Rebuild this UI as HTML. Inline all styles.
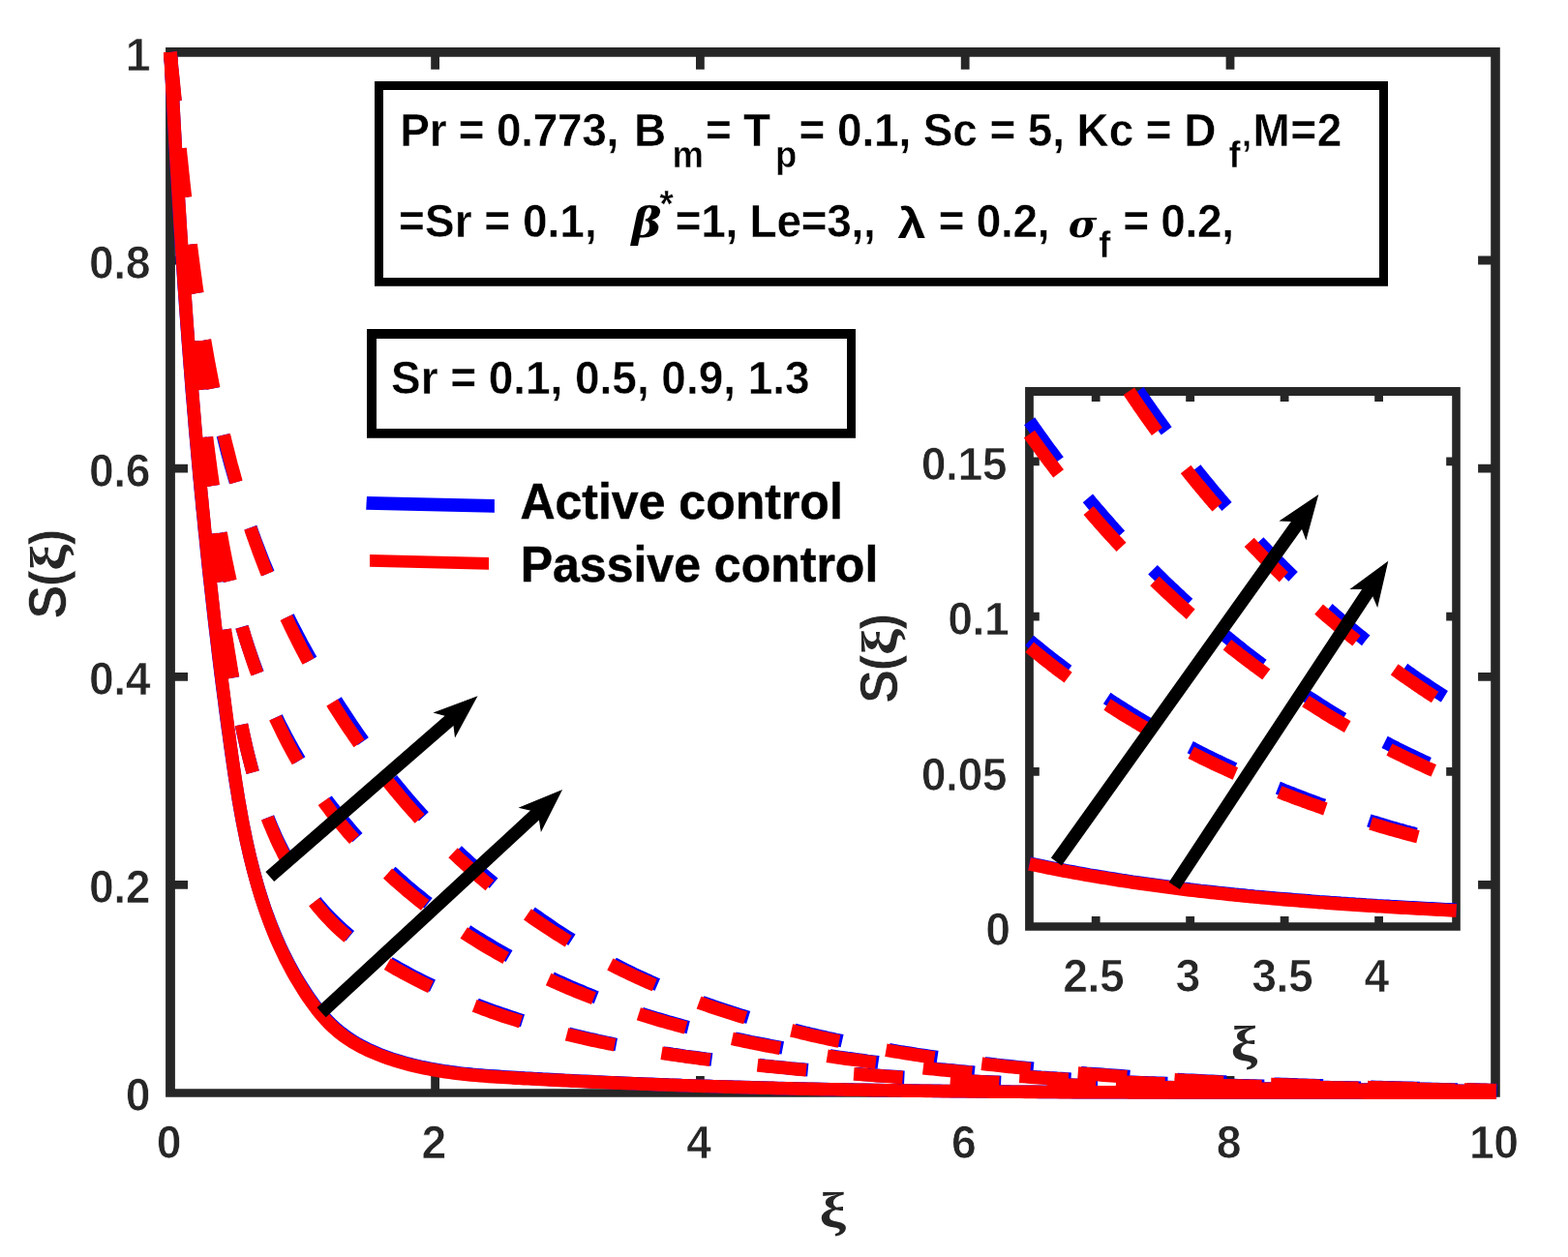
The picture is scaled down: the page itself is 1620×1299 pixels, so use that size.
<!DOCTYPE html>
<html lang="en"><head><meta charset="utf-8"><title>S(ξ) concentration profile</title>
<style>
html,body{margin:0;padding:0;background:#fff}
body{width:1620px;height:1299px;overflow:hidden}
svg{display:block}
text{font-family:"Liberation Sans","DejaVu Sans",sans-serif;font-weight:bold}
.tk{font-size:46.4px;fill:#262626;stroke:#fff;stroke-width:.7px;letter-spacing:-.5px}
.lb{font-size:51px;fill:#262626;stroke:#fff;stroke-width:.5px}
.bx{font-size:46px;fill:#000;stroke:#fff;stroke-width:.4px;letter-spacing:-.28px}
.sb{font-size:36.6px;fill:#000;stroke:#fff;stroke-width:.4px}
.lg{font-size:50px;fill:#000;stroke:#000;stroke-width:.45px}
.xi{font-family:"Liberation Serif","DejaVu Serif",serif;font-size:51.6px;fill:#262626}
.gb{font-family:"DejaVu Serif","Liberation Serif",serif;font-style:italic;fill:#000}
.gl{font-size:45.3px;fill:#000}
</style></head><body>
<svg width="1620" height="1299" viewBox="0 0 1620 1299">
<rect x="0" y="0" width="1620" height="1299" fill="#fff"/>
<g id="main-axes">
<path fill="#262626" fill-rule="evenodd" d="M171.1 49.1H1549.8V1133.8H171.1ZM180.9 58.7H1540.2V1125.2H180.9Z"/>
<path fill="#262626" d="M445.2 1112.1H454.0V1126.2H445.2ZM445.2 57.7H454.0V71.8H445.2ZM719.0 1112.1H727.8V1126.2H719.0ZM719.0 57.7H727.8V71.8H719.0ZM992.8 1112.1H1001.6V1126.2H992.8ZM992.8 57.7H1001.6V71.8H992.8ZM1266.6 1112.1H1275.4V1126.2H1266.6ZM1266.6 57.7H1275.4V71.8H1266.6ZM179.9 910.0H194.0V918.8H179.9ZM1527.1 910.0H1541.2V918.8H1527.1ZM179.9 694.9H194.0V703.7H179.9ZM1527.1 694.9H1541.2V703.7H1527.1ZM179.9 479.7H194.0V488.5H179.9ZM1527.1 479.7H1541.2V488.5H1527.1ZM179.9 264.6H194.0V273.4H179.9ZM1527.1 264.6H1541.2V273.4H1527.1Z"/>
</g>
<g id="main-ticklabels">
<text class="tk" transform="translate(174.3 1197.2) scale(1 1.055)" text-anchor="middle">0</text>
<text class="tk" transform="translate(448.1 1197.2) scale(1 1.055)" text-anchor="middle">2</text>
<text class="tk" transform="translate(721.9 1197.2) scale(1 1.055)" text-anchor="middle">4</text>
<text class="tk" transform="translate(995.7 1197.2) scale(1 1.055)" text-anchor="middle">6</text>
<text class="tk" transform="translate(1269.5 1197.2) scale(1 1.055)" text-anchor="middle">8</text>
<text class="tk" transform="translate(1543.3 1197.2) scale(1 1.055)" text-anchor="middle">10</text>
<text class="tk" transform="translate(155.0 1148.3) scale(1 1.055)" text-anchor="end">0</text>
<text class="tk" transform="translate(155.0 933.2) scale(1 1.055)" text-anchor="end">0.2</text>
<text class="tk" transform="translate(155.0 718.1) scale(1 1.055)" text-anchor="end">0.4</text>
<text class="tk" transform="translate(155.0 502.9) scale(1 1.055)" text-anchor="end">0.6</text>
<text class="tk" transform="translate(155.0 287.8) scale(1 1.055)" text-anchor="end">0.8</text>
<text class="tk" transform="translate(155.0 72.7) scale(1 1.055)" text-anchor="end">1</text>
</g>
<text class="xi" transform="translate(846.6 1268.2) scale(1.197 1.000)">ξ</text>
<g transform="translate(67.6 638.0) rotate(-90)"><text class="lb" transform="translate(-1.6 0.2) scale(1.02 1.1)">S</text><text class="lb" transform="translate(31.9 -0.7) scale(.97 1.02)">(</text><text class="xi" transform="translate(47.9 -0.4) scale(1.183 0.996)">ξ</text><text class="lb" transform="translate(74.7 -0.7) scale(.97 1.02)">)</text></g>
<g id="main-curves" fill="none" stroke-width="13.6" stroke-linecap="butt" stroke-linejoin="round">
<g stroke="#0000ff">
<path d="M176.0 54.0L176.2 58.5L176.5 63.1L176.7 67.6L176.9 72.1L177.2 76.6L177.4 81.1L177.6 85.7L177.9 90.2L178.1 94.7L178.3 99.2L178.6 103.7L178.8 108.3L179.1 112.8L179.3 117.3L179.6 121.8L179.8 126.3L180.1 130.8L180.3 135.3L180.6 139.8L180.8 144.3L181.1 148.8L181.3 153.3L181.6 157.9L181.8 162.4L182.1 166.9L182.3 171.4L182.6 175.9L182.9 180.4L183.1 184.9L183.4 189.4L183.7 193.9L183.9 198.3L184.2 202.8L184.5 207.3L184.7 211.8L185.0 216.3L185.3 220.8L185.6 225.3L185.9 229.8L186.2 234.3L186.4 238.8L186.7 243.3L187.0 247.8L187.3 252.2L187.6 256.7L187.9 261.2L188.2 265.7L188.5 270.2L188.8 274.7L189.1 279.2L189.4 283.6L189.7 288.1L190.0 292.6L190.3 297.1L190.7 301.6L191.0 306.1L191.3 310.5L191.6 315.0L191.9 319.5L192.3 324.0L192.6 328.4L192.9 332.9L193.2 337.4L193.6 341.9L193.9 346.4L194.2 350.8L194.6 355.3L194.9 359.8L195.3 364.3L195.6 368.7L196.0 373.2L196.3 377.7L196.7 382.2L197.0 386.6L197.4 391.1L197.7 395.6L198.1 400.1L198.4 404.5L198.8 409.0L199.2 413.5L199.6 417.9L199.9 422.4L200.3 426.9L200.7 431.4L201.1 435.8L201.4 440.3L201.8 444.8L202.2 449.3L202.6 453.7L203.0 458.2L203.4 462.7L203.8 467.1L204.2 471.6L204.6 476.1L205.0 480.6L205.4 485.0L205.8 489.5L206.2 494.0L206.7 498.4L207.1 502.9L207.5 507.4L207.9 511.9L208.4 516.3L208.8 520.8L209.2 525.3L209.7 529.7L210.1 534.2L210.6 538.7L211.0 543.2L211.4 547.6L211.9 552.1L212.4 556.6L212.8 561.1L213.3 565.5L213.7 570.0L214.2 574.5L214.7 579.0L215.1 583.4L215.6 587.9L216.1 592.4L216.6 596.9L217.1 601.3L217.6 605.8L218.1 610.3L218.6 614.8L219.1 619.3L219.6 623.7L220.1 628.2L220.6 632.7L221.1 637.2L221.6 641.7L222.1 646.1L222.6 650.6L223.2 655.1L223.7 659.6L224.2 664.1L224.8 668.6L225.3 673.0L225.8 677.5L226.4 682.0L226.9 686.5L227.5 691.0L228.0 695.5L228.6 700.0L229.2 704.5L229.7 708.9L230.3 713.4L230.9 717.9L231.5 722.4L232.1 726.9L232.6 731.4L233.2 735.9L233.8 740.4L234.4 744.9L235.0 749.4L235.6 753.9L236.3 758.4L236.9 762.9L237.5 767.4L238.1 771.9L238.8 776.4L239.4 780.9L240.1 785.4L240.7 789.9L241.4 794.4L242.0 798.9L242.7 803.4L243.4 807.8L244.1 812.3L244.9 816.8L245.6 821.3L246.3 825.8L247.1 830.2L247.9 834.7L248.7 839.2L249.5 843.6L250.3 848.1L251.2 852.5L252.1 857.0L253.0 861.4L253.9 865.8L254.8 870.2L255.8 874.6L256.8 879.0L257.8 883.4L258.9 887.8L260.0 892.1L261.1 896.5L262.2 900.8L263.4 905.2L264.6 909.5L265.8 913.8L267.1 918.1L268.4 922.4L269.7 926.6L271.1 930.9L272.5 935.1L273.9 939.3L275.4 943.5L277.0 947.7L278.5 951.9L280.1 956.1L281.8 960.2L283.5 964.3L285.2 968.4L287.0 972.5L288.8 976.6L290.7 980.6L292.6 984.6L294.6 988.6L296.6 992.6L298.7 996.6L300.8 1000.5L303.0 1004.5L305.2 1008.4L307.5 1012.2L309.8 1016.1L312.2 1019.9L314.6 1023.7L317.1 1027.5L319.7 1031.3L322.3 1035.0L325.0 1038.7L327.8 1042.3L330.7 1045.8L333.6 1049.3L336.6 1052.6L339.7 1055.9L342.9 1059.1L346.2 1062.1L349.6 1065.0L353.1 1067.8L356.7 1070.5L360.3 1073.1L364.1 1075.5L367.9 1077.8L371.8 1080.0L375.8 1082.1L379.8 1084.1L383.9 1086.0L388.0 1087.8L392.1 1089.5L396.3 1091.1L400.5 1092.6L404.7 1094.1L409.0 1095.5L413.3 1096.8L417.5 1098.0L421.8 1099.2L426.2 1100.3L430.5 1101.3L434.8 1102.3L439.2 1103.2L443.6 1104.1L448.0 1104.9L452.4 1105.7L456.8 1106.4L461.2 1107.1L465.7 1107.7L470.1 1108.3L474.6 1108.9L479.1 1109.4L483.6 1109.8L488.0 1110.3L492.5 1110.7L497.0 1111.1L501.6 1111.5L506.1 1111.8L510.6 1112.1L515.1 1112.4L519.6 1112.7L524.1 1113.0L528.7 1113.3L533.2 1113.5L537.7 1113.8L542.2 1114.1L546.8 1114.3L551.3 1114.6L555.8 1114.8L560.3 1115.1L564.8 1115.3L569.4 1115.6L573.9 1115.8L578.4 1116.0L582.9 1116.3L587.4 1116.5L591.9 1116.7L596.5 1117.0L601.0 1117.2L605.5 1117.4L610.0 1117.6L614.5 1117.9L619.0 1118.1L623.6 1118.3L628.1 1118.5L632.6 1118.7L637.1 1118.9L641.6 1119.1L646.1 1119.3L650.6 1119.5L655.1 1119.7L659.6 1119.9L664.2 1120.1L668.7 1120.2L673.2 1120.4L677.7 1120.6L682.2 1120.8L686.7 1120.9L691.2 1121.1L695.7 1121.2L700.3 1121.4L704.8 1121.6L709.3 1121.7L713.8 1121.9L718.3 1122.0L722.8 1122.2L727.3 1122.3L731.8 1122.4L736.3 1122.6L740.8 1122.7L745.3 1122.9L749.8 1123.0L754.4 1123.1L758.9 1123.3L763.4 1123.4L767.9 1123.5L772.4 1123.6L776.9 1123.8L781.4 1123.9L785.9 1124.0L790.4 1124.1L794.9 1124.2L799.4 1124.4L803.9 1124.5L808.4 1124.6L812.9 1124.7L817.4 1124.8L821.9 1124.9L826.4 1125.0L830.9 1125.1L835.4 1125.2L839.9 1125.3L844.4 1125.4L848.9 1125.5L853.4 1125.6L857.9 1125.7L862.4 1125.8L866.9 1125.8L871.4 1125.9L875.9 1126.0L880.4 1126.1L884.9 1126.2L889.4 1126.3L893.9 1126.3L898.4 1126.4L902.9 1126.5L907.4 1126.6L911.9 1126.6L916.4 1126.7L920.9 1126.8L925.4 1126.8L929.9 1126.9L934.4 1127.0L938.9 1127.0L943.4 1127.1L947.9 1127.1L952.4 1127.2L956.8 1127.3L961.3 1127.3L965.8 1127.4L970.3 1127.4L974.8 1127.5L979.3 1127.5L983.8 1127.6L988.3 1127.6L992.8 1127.7L997.3 1127.7L1001.8 1127.8L1006.3 1127.8L1010.8 1127.9L1015.3 1127.9L1019.8 1127.9L1024.3 1128.0L1028.8 1128.0L1033.3 1128.1L1037.8 1128.1L1042.2 1128.1L1046.7 1128.2L1051.2 1128.2L1055.7 1128.2L1060.2 1128.3L1064.7 1128.3L1069.2 1128.3L1073.7 1128.4L1078.2 1128.4L1082.7 1128.4L1087.2 1128.4L1091.7 1128.5L1096.2 1128.5L1100.7 1128.5L1105.2 1128.5L1109.7 1128.6L1114.2 1128.6L1118.7 1128.6L1123.1 1128.6L1127.6 1128.6L1132.1 1128.6L1136.6 1128.7L1141.1 1128.7L1145.6 1128.7L1150.1 1128.7L1154.6 1128.7L1159.1 1128.7L1163.6 1128.8L1168.1 1128.8L1172.6 1128.8L1177.1 1128.8L1181.6 1128.8L1186.1 1128.8L1190.6 1128.8L1195.1 1128.8L1199.6 1128.8L1204.1 1128.8L1208.6 1128.9L1213.1 1128.9L1217.6 1128.9L1222.1 1128.9L1226.6 1128.9L1231.0 1128.9L1235.5 1128.9L1240.0 1128.9L1244.5 1128.9L1249.0 1128.9L1253.5 1128.9L1258.0 1128.9L1262.5 1128.9L1267.0 1128.9L1271.5 1128.9L1276.0 1128.9L1280.5 1128.9L1285.0 1128.9L1289.5 1128.9L1294.0 1128.9L1298.5 1128.9L1303.0 1128.9L1307.5 1128.9L1312.0 1128.9L1316.5 1128.9L1321.0 1128.9L1325.5 1128.9L1330.0 1128.9L1334.6 1128.9L1339.1 1128.9L1343.6 1129.0L1348.1 1129.0L1352.6 1129.0L1357.1 1129.0L1361.6 1129.0L1366.1 1129.0L1370.6 1129.0L1375.1 1129.0L1379.6 1129.0L1384.1 1129.0L1388.6 1129.0L1393.1 1129.0L1397.6 1129.0L1402.1 1129.0L1406.6 1129.0L1411.2 1129.0L1415.7 1129.0L1420.2 1129.0L1424.7 1129.0L1429.2 1129.0L1433.7 1129.0L1438.2 1129.0L1442.7 1129.0L1447.2 1129.0L1451.7 1129.0L1456.3 1129.0L1460.8 1129.0L1465.3 1129.0L1469.8 1129.0L1474.3 1129.0L1478.8 1129.0L1483.3 1129.1L1487.9 1129.1L1492.4 1129.1L1496.9 1129.1L1501.4 1129.1L1505.9 1129.1L1510.3 1129.1L1514.8 1129.1L1519.3 1129.2L1523.8 1129.2L1528.2 1129.2L1532.7 1129.2L1537.2 1129.3L1541.7 1129.3L1546.1 1129.3"/>
<path stroke-dasharray="50.7 49.2" d="M176.0 54.0L176.3 58.3L176.5 62.7L176.8 67.0L177.0 71.4L177.3 75.7L177.6 80.1L177.8 84.4L178.1 88.7L178.4 93.1L178.6 97.4L178.9 101.8L179.2 106.1L179.4 110.4L179.7 114.8L180.0 119.1L180.2 123.4L180.5 127.8L180.8 132.1L181.0 136.4L181.3 140.8L181.6 145.1L181.9 149.4L182.1 153.8L182.4 158.1L182.7 162.4L183.0 166.7L183.2 171.1L183.5 175.4L183.8 179.7L184.1 184.0L184.4 188.4L184.7 192.7L185.0 197.0L185.3 201.3L185.6 205.7L185.9 210.0L186.2 214.3L186.5 218.6L186.8 222.9L187.1 227.3L187.4 231.6L187.7 235.9L188.0 240.2L188.3 244.5L188.6 248.8L189.0 253.2L189.3 257.5L189.6 261.8L189.9 266.1L190.2 270.4L190.6 274.7L190.9 279.0L191.2 283.3L191.6 287.7L191.9 292.0L192.2 296.3L192.6 300.6L192.9 304.9L193.3 309.2L193.6 313.5L194.0 317.8L194.3 322.1L194.7 326.4L195.0 330.7L195.4 335.0L195.8 339.4L196.1 343.7L196.5 348.0L196.9 352.3L197.3 356.6L197.6 360.9L198.0 365.2L198.4 369.5L198.8 373.8L199.2 378.1L199.6 382.4L200.0 386.7L200.4 391.0L200.8 395.3L201.2 399.6L201.6 403.9L202.0 408.2L202.4 412.5L202.8 416.8L203.3 421.1L203.7 425.4L204.1 429.7L204.6 434.0L205.0 438.3L205.4 442.6L205.9 446.9L206.3 451.2L206.8 455.5L207.2 459.8L207.7 464.1L208.2 468.4L208.6 472.7L209.1 477.0L209.6 481.3L210.1 485.6L210.5 489.9L211.0 494.2L211.5 498.5L212.0 502.8L212.5 507.1L213.0 511.4L213.5 515.7L214.0 520.0L214.6 524.3L215.1 528.6L215.6 532.9L216.1 537.2L216.7 541.5L217.2 545.8L217.8 550.1L218.3 554.4L218.9 558.7L219.4 563.0L220.0 567.3L220.6 571.6L221.1 575.9L221.7 580.2L222.3 584.5L222.9 588.8L223.5 593.1L224.1 597.4L224.7 601.7L225.3 606.0L225.9 610.3L226.5 614.6L227.1 618.9L227.8 623.2L228.4 627.5L229.1 631.8L229.7 636.1L230.3 640.4L231.0 644.7L231.7 649.0L232.3 653.3L233.0 657.6L233.7 661.9L234.4 666.2L235.1 670.5L235.8 674.8L236.5 679.1L237.2 683.4L238.0 687.7L238.7 692.0L239.5 696.3L240.2 700.6L241.0 704.9L241.7 709.2L242.5 713.5L243.3 717.8L244.1 722.1L244.9 726.4L245.7 730.7L246.6 735.0L247.4 739.3L248.3 743.5L249.2 747.8L250.1 752.1L251.0 756.4L251.9 760.6L252.9 764.9L253.8 769.1L254.8 773.3L255.9 777.6L256.9 781.8L258.0 786.0L259.1 790.2L260.2 794.4L261.4 798.6L262.6 802.7L263.8 806.9L265.1 811.0L266.3 815.2L267.7 819.3L269.0 823.4L270.4 827.5L271.8 831.5L273.3 835.6L274.8 839.6L276.3 843.6L277.9 847.6L279.5 851.6L281.2 855.6L282.9 859.5L284.6 863.4L286.4 867.3L288.3 871.2L290.2 875.1L292.1 878.9L294.1 882.7L296.1 886.5L298.2 890.3L300.4 894.1L302.6 897.8L304.8 901.5L307.1 905.2L309.5 908.8L311.9 912.4L314.4 916.0L316.9 919.5L319.5 923.0L322.1 926.4L324.8 929.8L327.5 933.2L330.3 936.5L333.2 939.8L336.1 943.0L339.1 946.2L342.1 949.3L345.2 952.4L348.3 955.4L351.5 958.3L354.7 961.2L358.0 964.1L361.3 966.9L364.6 969.7L368.1 972.3L371.5 975.0L375.1 977.5L378.6 980.0L382.2 982.5L385.9 984.9L389.5 987.2L393.2 989.6L396.9 991.8L400.7 994.1L404.4 996.3L408.2 998.5L412.0 1000.6L415.8 1002.7L419.6 1004.8L423.4 1006.9L427.2 1008.9L431.1 1010.9L434.9 1012.8L438.8 1014.8L442.7 1016.7L446.6 1018.5L450.5 1020.4L454.4 1022.2L458.3 1024.0L462.2 1025.7L466.2 1027.5L470.1 1029.2L474.1 1030.9L478.1 1032.5L482.1 1034.1L486.0 1035.7L490.1 1037.3L494.1 1038.9L498.1 1040.4L502.1 1041.9L506.2 1043.4L510.2 1044.8L514.3 1046.2L518.4 1047.6L522.4 1049.0L526.5 1050.4L530.6 1051.7L534.7 1053.1L538.8 1054.4L542.9 1055.7L547.0 1057.0L551.1 1058.2L555.3 1059.4L559.4 1060.6L563.6 1061.8L567.7 1063.0L571.9 1064.1L576.0 1065.3L580.2 1066.4L584.4 1067.5L588.6 1068.5L592.8 1069.6L597.0 1070.6L601.2 1071.6L605.4 1072.6L609.6 1073.6L613.8 1074.5L618.1 1075.5L622.3 1076.4L626.5 1077.3L630.8 1078.2L635.0 1079.1L639.3 1079.9L643.5 1080.8L647.8 1081.6L652.0 1082.4L656.3 1083.2L660.6 1083.9L664.9 1084.7L669.2 1085.4L673.5 1086.1L677.8 1086.8L682.1 1087.5L686.4 1088.2L690.7 1088.8L695.0 1089.5L699.3 1090.1L703.6 1090.7L707.9 1091.4L712.2 1092.0L716.6 1092.6L720.9 1093.1L725.2 1093.7L729.5 1094.3L733.8 1094.8L738.2 1095.4L742.5 1095.9L746.8 1096.4L751.2 1096.9L755.5 1097.5L759.8 1098.0L764.1 1098.4L768.5 1098.9L772.8 1099.4L777.1 1099.9L781.5 1100.3L785.8 1100.8L790.1 1101.3L794.5 1101.7L798.8 1102.2L803.1 1102.6L807.4 1103.0L811.8 1103.4L816.1 1103.9L820.4 1104.3L824.8 1104.7L829.1 1105.1L833.4 1105.5L837.7 1105.9L842.1 1106.3L846.4 1106.6L850.7 1107.0L855.0 1107.4L859.4 1107.7L863.7 1108.1L868.0 1108.4L872.3 1108.8L876.7 1109.1L881.0 1109.5L885.3 1109.8L889.6 1110.1L893.9 1110.5L898.3 1110.8L902.6 1111.1L906.9 1111.4L911.2 1111.7L915.5 1112.0L919.9 1112.3L924.2 1112.6L928.5 1112.9L932.8 1113.2L937.1 1113.4L941.5 1113.7L945.8 1114.0L950.1 1114.2L954.4 1114.5L958.7 1114.7L963.0 1115.0L967.4 1115.2L971.7 1115.5L976.0 1115.7L980.3 1115.9L984.6 1116.2L988.9 1116.4L993.3 1116.6L997.6 1116.8L1001.9 1117.1L1006.2 1117.3L1010.5 1117.5L1014.8 1117.7L1019.2 1117.9L1023.5 1118.1L1027.8 1118.3L1032.1 1118.4L1036.4 1118.6L1040.7 1118.8L1045.1 1119.0L1049.4 1119.2L1053.7 1119.3L1058.0 1119.5L1062.3 1119.7L1066.6 1119.8L1070.9 1120.0L1075.3 1120.1L1079.6 1120.3L1083.9 1120.4L1088.2 1120.6L1092.5 1120.7L1096.8 1120.9L1101.2 1121.0L1105.5 1121.1L1109.8 1121.3L1114.1 1121.4L1118.4 1121.5L1122.7 1121.6L1127.0 1121.8L1131.4 1121.9L1135.7 1122.0L1140.0 1122.1L1144.3 1122.2L1148.6 1122.3L1152.9 1122.4L1157.3 1122.5L1161.6 1122.6L1165.9 1122.7L1170.2 1122.8L1174.5 1122.9L1178.8 1123.0L1183.2 1123.1L1187.5 1123.2L1191.8 1123.3L1196.1 1123.4L1200.4 1123.5L1204.8 1123.5L1209.1 1123.6L1213.4 1123.7L1217.7 1123.8L1222.0 1123.8L1226.4 1123.9L1230.7 1124.0L1235.0 1124.1L1239.3 1124.1L1243.6 1124.2L1248.0 1124.3L1252.3 1124.3L1256.6 1124.4L1260.9 1124.4L1265.2 1124.5L1269.6 1124.6L1273.9 1124.6L1278.2 1124.7L1282.5 1124.7L1286.9 1124.8L1291.2 1124.8L1295.5 1124.9L1299.8 1124.9L1304.2 1125.0L1308.5 1125.0L1312.8 1125.1L1317.1 1125.1L1321.5 1125.2L1325.8 1125.2L1330.1 1125.3L1334.5 1125.3L1338.8 1125.4L1343.1 1125.4L1347.4 1125.5L1351.8 1125.5L1356.1 1125.6L1360.4 1125.6L1364.8 1125.6L1369.1 1125.7L1373.4 1125.7L1377.8 1125.8L1382.1 1125.8L1386.4 1125.9L1390.8 1125.9L1395.1 1125.9L1399.4 1126.0L1403.8 1126.0L1408.1 1126.1L1412.4 1126.1L1416.8 1126.2L1421.1 1126.2L1425.5 1126.3L1429.8 1126.3L1434.1 1126.3L1438.5 1126.4L1442.8 1126.4L1447.2 1126.5L1451.5 1126.5L1455.9 1126.6L1460.2 1126.6L1464.5 1126.7L1468.9 1126.7L1473.2 1126.8L1477.6 1126.8L1481.9 1126.9L1486.3 1127.0L1490.6 1127.0L1495.0 1127.1L1499.3 1127.1L1503.6 1127.2L1507.9 1127.3L1512.1 1127.3L1516.4 1127.4L1520.7 1127.5L1524.9 1127.6L1529.2 1127.7L1533.5 1127.7L1537.7 1127.8L1542.0 1127.9L1546.3 1128.0"/>
<path stroke-dasharray="50.7 49.2" d="M176.0 54.0L176.3 58.2L176.6 62.4L176.9 66.6L177.2 70.8L177.5 75.0L177.9 79.1L178.2 83.3L178.5 87.5L178.8 91.7L179.1 95.9L179.4 100.1L179.7 104.2L180.0 108.4L180.4 112.6L180.7 116.8L181.0 121.0L181.3 125.1L181.6 129.3L181.9 133.5L182.2 137.7L182.6 141.8L182.9 146.0L183.2 150.2L183.5 154.4L183.8 158.5L184.2 162.7L184.5 166.9L184.8 171.1L185.2 175.2L185.5 179.4L185.8 183.6L186.2 187.7L186.5 191.9L186.9 196.1L187.2 200.2L187.6 204.4L187.9 208.6L188.3 212.7L188.6 216.9L189.0 221.1L189.4 225.2L189.7 229.4L190.1 233.6L190.4 237.7L190.8 241.9L191.2 246.0L191.6 250.2L191.9 254.4L192.3 258.5L192.7 262.7L193.1 266.9L193.4 271.0L193.8 275.2L194.2 279.3L194.6 283.5L195.0 287.7L195.4 291.8L195.8 296.0L196.2 300.1L196.6 304.3L197.0 308.5L197.4 312.6L197.8 316.8L198.2 321.0L198.6 325.1L199.0 329.3L199.4 333.4L199.9 337.6L200.3 341.8L200.7 345.9L201.2 350.1L201.6 354.2L202.0 358.4L202.5 362.6L202.9 366.7L203.4 370.9L203.8 375.1L204.3 379.2L204.7 383.4L205.2 387.6L205.7 391.7L206.1 395.9L206.6 400.1L207.1 404.2L207.6 408.4L208.0 412.6L208.5 416.7L209.0 420.9L209.5 425.1L210.0 429.2L210.5 433.4L211.0 437.6L211.5 441.7L212.1 445.9L212.6 450.1L213.1 454.3L213.6 458.4L214.2 462.6L214.7 466.8L215.2 471.0L215.8 475.1L216.3 479.3L216.9 483.5L217.5 487.7L218.1 491.8L218.6 496.0L219.2 500.2L219.8 504.3L220.5 508.5L221.1 512.7L221.7 516.8L222.4 521.0L223.0 525.2L223.7 529.3L224.3 533.5L225.0 537.6L225.7 541.8L226.4 545.9L227.2 550.1L227.9 554.2L228.6 558.4L229.4 562.5L230.2 566.6L231.0 570.8L231.8 574.9L232.6 579.0L233.4 583.1L234.3 587.3L235.2 591.4L236.1 595.5L237.1 599.6L238.1 603.6L239.1 607.7L240.1 611.8L241.1 615.9L242.1 620.0L243.2 624.0L244.3 628.1L245.4 632.1L246.5 636.2L247.7 640.2L248.8 644.2L250.0 648.3L251.3 652.3L252.5 656.3L253.8 660.3L255.1 664.3L256.4 668.3L257.7 672.3L259.1 676.3L260.5 680.2L261.9 684.2L263.3 688.1L264.8 692.1L266.3 696.0L267.8 699.9L269.3 703.8L270.9 707.7L272.4 711.6L274.1 715.4L275.7 719.3L277.3 723.1L279.0 726.9L280.7 730.7L282.5 734.5L284.2 738.3L286.0 742.0L287.8 745.8L289.7 749.5L291.6 753.2L293.5 756.9L295.4 760.6L297.4 764.3L299.4 768.0L301.4 771.6L303.4 775.2L305.5 778.8L307.6 782.4L309.8 786.0L311.9 789.5L314.1 793.1L316.4 796.6L318.6 800.1L320.9 803.6L323.3 807.0L325.6 810.5L328.0 813.9L330.4 817.3L332.9 820.7L335.4 824.0L337.9 827.4L340.4 830.7L343.0 834.0L345.6 837.3L348.3 840.5L351.0 843.7L353.7 847.0L356.3 850.2L359.0 853.4L361.7 856.6L364.4 859.8L367.2 863.0L370.0 866.1L372.8 869.2L375.6 872.3L378.5 875.4L381.4 878.4L384.3 881.4L387.2 884.4L390.2 887.4L393.2 890.4L396.2 893.3L399.2 896.2L402.3 899.1L405.4 902.0L408.5 904.8L411.6 907.7L414.8 910.4L417.9 913.2L421.1 916.0L424.3 918.7L427.6 921.4L430.8 924.1L434.1 926.7L437.4 929.4L440.7 932.0L444.0 934.6L447.4 937.1L450.7 939.7L454.1 942.2L457.5 944.7L460.9 947.1L464.3 949.6L467.7 952.0L471.2 954.4L474.7 956.7L478.2 959.1L481.6 961.4L485.2 963.7L488.7 965.9L492.2 968.2L495.8 970.4L499.3 972.6L502.9 974.7L506.5 976.9L510.1 979.0L513.7 981.1L517.3 983.1L520.9 985.2L524.6 987.2L528.2 989.3L531.9 991.3L535.5 993.3L539.2 995.3L542.9 997.2L546.6 999.1L550.3 1001.0L554.0 1002.9L557.7 1004.8L561.5 1006.6L565.2 1008.4L569.0 1010.2L572.7 1012.0L576.5 1013.8L580.3 1015.5L584.1 1017.2L587.9 1018.9L591.7 1020.6L595.5 1022.2L599.4 1023.8L603.2 1025.5L607.1 1027.0L610.9 1028.6L614.8 1030.2L618.7 1031.7L622.5 1033.2L626.4 1034.7L630.3 1036.2L634.2 1037.6L638.2 1039.1L642.1 1040.5L646.0 1041.9L650.0 1043.3L653.9 1044.6L657.9 1045.9L661.9 1047.2L665.8 1048.5L669.8 1049.7L673.8 1050.9L677.8 1052.2L681.9 1053.4L685.9 1054.5L689.9 1055.7L693.9 1056.8L698.0 1058.0L702.0 1059.1L706.0 1060.2L710.1 1061.3L714.2 1062.3L718.2 1063.4L722.3 1064.4L726.4 1065.4L730.4 1066.4L734.5 1067.4L738.6 1068.4L742.7 1069.4L746.8 1070.3L750.9 1071.2L755.0 1072.2L759.1 1073.1L763.2 1074.0L767.4 1074.8L771.5 1075.7L775.6 1076.6L779.7 1077.4L783.9 1078.2L788.0 1079.0L792.2 1079.8L796.3 1080.6L800.4 1081.4L804.6 1082.2L808.7 1082.9L812.9 1083.7L817.1 1084.4L821.2 1085.1L825.4 1085.8L829.5 1086.5L833.7 1087.2L837.9 1087.9L842.0 1088.6L846.2 1089.2L850.4 1089.9L854.5 1090.5L858.7 1091.1L862.9 1091.8L867.1 1092.4L871.2 1093.0L875.4 1093.6L879.6 1094.1L883.8 1094.7L888.0 1095.3L892.1 1095.8L896.3 1096.4L900.5 1096.9L904.7 1097.4L908.8 1098.0L913.0 1098.5L917.2 1099.0L921.4 1099.5L925.5 1100.0L929.7 1100.5L933.9 1100.9L938.1 1101.4L942.2 1101.9L946.4 1102.3L950.6 1102.8L954.8 1103.2L958.9 1103.7L963.1 1104.1L967.3 1104.5L971.4 1104.9L975.6 1105.3L979.8 1105.7L983.9 1106.1L988.1 1106.5L992.3 1106.9L996.4 1107.3L1000.6 1107.7L1004.8 1108.0L1008.9 1108.4L1013.1 1108.7L1017.3 1109.1L1021.4 1109.4L1025.6 1109.8L1029.8 1110.1L1033.9 1110.4L1038.1 1110.7L1042.3 1111.1L1046.4 1111.4L1050.6 1111.7L1054.8 1112.0L1058.9 1112.2L1063.1 1112.5L1067.3 1112.8L1071.4 1113.1L1075.6 1113.4L1079.7 1113.6L1083.9 1113.9L1088.1 1114.1L1092.2 1114.4L1096.4 1114.6L1100.6 1114.9L1104.7 1115.1L1108.9 1115.3L1113.1 1115.6L1117.2 1115.8L1121.4 1116.0L1125.5 1116.2L1129.7 1116.4L1133.9 1116.6L1138.0 1116.9L1142.2 1117.0L1146.4 1117.2L1150.5 1117.4L1154.7 1117.6L1158.8 1117.8L1163.0 1118.0L1167.2 1118.2L1171.3 1118.3L1175.5 1118.5L1179.7 1118.7L1183.8 1118.8L1188.0 1119.0L1192.2 1119.1L1196.3 1119.3L1200.5 1119.4L1204.7 1119.6L1208.8 1119.7L1213.0 1119.9L1217.2 1120.0L1221.3 1120.1L1225.5 1120.3L1229.7 1120.4L1233.8 1120.5L1238.0 1120.6L1242.2 1120.8L1246.3 1120.9L1250.5 1121.0L1254.7 1121.1L1258.8 1121.2L1263.0 1121.3L1267.2 1121.4L1271.3 1121.5L1275.5 1121.6L1279.7 1121.7L1283.9 1121.8L1288.0 1121.9L1292.2 1122.0L1296.4 1122.1L1300.6 1122.2L1304.7 1122.3L1308.9 1122.4L1313.1 1122.5L1317.3 1122.6L1321.4 1122.6L1325.6 1122.7L1329.8 1122.8L1334.0 1122.9L1338.1 1123.0L1342.3 1123.1L1346.5 1123.1L1350.7 1123.2L1354.9 1123.3L1359.0 1123.4L1363.2 1123.4L1367.4 1123.5L1371.6 1123.6L1375.8 1123.7L1380.0 1123.7L1384.2 1123.8L1388.3 1123.9L1392.5 1123.9L1396.7 1124.0L1400.9 1124.1L1405.1 1124.2L1409.3 1124.2L1413.5 1124.3L1417.7 1124.4L1421.9 1124.5L1426.1 1124.5L1430.2 1124.6L1434.4 1124.7L1438.6 1124.7L1442.8 1124.8L1447.0 1124.9L1451.2 1125.0L1455.4 1125.0L1459.6 1125.1L1463.8 1125.2L1468.0 1125.3L1472.2 1125.4L1476.4 1125.4L1480.7 1125.5L1484.9 1125.6L1489.1 1125.7L1493.3 1125.8L1497.5 1125.9L1501.7 1126.0L1505.8 1126.1L1509.8 1126.2L1513.9 1126.3L1518.0 1126.4L1522.0 1126.5L1526.1 1126.7L1530.2 1126.8L1534.2 1126.9L1538.3 1127.0L1542.4 1127.2L1546.4 1127.3"/>
<path stroke-dasharray="50.7 49.2" d="M176.0 54.0L176.4 58.0L176.8 62.0L177.2 66.0L177.5 70.1L177.9 74.1L178.3 78.1L178.7 82.1L179.0 86.2L179.4 90.2L179.8 94.2L180.2 98.3L180.6 102.3L180.9 106.3L181.3 110.4L181.7 114.4L182.1 118.5L182.4 122.5L182.8 126.6L183.2 130.6L183.6 134.6L184.0 138.7L184.3 142.7L184.8 146.8L185.2 150.8L185.6 154.9L186.0 159.0L186.4 163.0L186.8 167.1L187.3 171.1L187.7 175.2L188.1 179.2L188.5 183.3L189.0 187.4L189.4 191.4L189.8 195.5L190.3 199.5L190.7 203.6L191.2 207.6L191.6 211.7L192.1 215.8L192.5 219.8L193.0 223.9L193.5 227.9L194.0 232.0L194.4 236.1L194.9 240.1L195.4 244.2L195.9 248.2L196.4 252.3L196.9 256.3L197.4 260.4L197.9 264.5L198.5 268.5L199.0 272.6L199.5 276.6L200.1 280.7L200.6 284.7L201.1 288.8L201.7 292.8L202.3 296.9L202.8 300.9L203.4 304.9L204.0 309.0L204.6 313.0L205.2 317.1L205.8 321.1L206.4 325.1L207.1 329.2L207.7 333.2L208.3 337.2L209.0 341.3L209.6 345.3L210.3 349.3L211.0 353.3L211.7 357.3L212.4 361.4L213.1 365.4L213.8 369.4L214.5 373.4L215.2 377.4L216.0 381.4L216.7 385.4L217.5 389.4L218.3 393.4L219.0 397.4L219.8 401.4L220.6 405.4L221.4 409.4L222.3 413.3L223.1 417.3L224.0 421.3L224.8 425.3L225.7 429.2L226.6 433.2L227.5 437.2L228.4 441.1L229.3 445.1L230.2 449.0L231.2 453.0L232.1 456.9L233.1 460.9L234.1 464.8L235.1 468.7L236.2 472.6L237.3 476.6L238.3 480.5L239.5 484.4L240.6 488.3L241.7 492.2L242.9 496.1L244.0 500.0L245.2 503.8L246.4 507.7L247.6 511.6L248.9 515.5L250.1 519.3L251.4 523.2L252.6 527.0L253.9 530.9L255.2 534.7L256.6 538.6L257.9 542.4L259.3 546.2L260.6 550.0L262.0 553.9L263.4 557.7L264.9 561.5L266.3 565.3L267.8 569.1L269.2 572.9L270.7 576.6L272.2 580.4L273.7 584.1L275.3 587.9L276.8 591.6L278.4 595.3L280.0 599.1L281.6 602.8L283.2 606.5L284.9 610.2L286.6 613.9L288.2 617.6L289.9 621.2L291.7 624.9L293.4 628.6L295.2 632.2L296.9 635.9L298.7 639.5L300.5 643.2L302.4 646.8L304.2 650.4L306.1 654.0L308.0 657.6L309.9 661.2L311.8 664.8L313.7 668.4L315.7 671.9L317.7 675.5L319.7 679.0L321.7 682.6L323.7 686.1L325.7 689.6L327.8 693.1L329.9 696.6L332.0 700.1L334.1 703.6L336.3 707.1L338.4 710.5L340.6 714.0L342.8 717.4L345.0 720.9L347.2 724.3L349.5 727.7L351.7 731.1L354.0 734.5L356.2 737.9L358.4 741.4L360.7 744.8L362.9 748.2L365.2 751.6L367.5 754.9L369.8 758.3L372.2 761.7L374.5 765.0L376.9 768.4L379.2 771.7L381.6 775.0L384.0 778.3L386.5 781.6L388.9 784.9L391.4 788.1L393.9 791.4L396.4 794.6L398.9 797.8L401.4 801.1L403.9 804.3L406.5 807.5L409.1 810.6L411.7 813.8L414.3 816.9L416.9 820.1L419.6 823.2L422.2 826.3L424.9 829.4L427.6 832.5L430.3 835.6L433.1 838.6L435.8 841.7L438.6 844.7L441.3 847.7L444.1 850.7L446.9 853.7L449.8 856.6L452.6 859.6L455.5 862.5L458.3 865.4L461.2 868.3L464.1 871.2L467.0 874.1L470.0 876.9L472.9 879.7L475.9 882.6L478.9 885.4L481.9 888.1L484.9 890.9L487.9 893.6L491.0 896.4L494.0 899.1L497.1 901.8L500.2 904.4L503.3 907.1L506.4 909.7L509.6 912.3L512.7 914.9L515.9 917.5L519.0 920.0L522.2 922.6L525.4 925.1L528.7 927.6L531.9 930.2L535.1 932.7L538.4 935.1L541.6 937.6L544.9 940.0L548.2 942.5L551.5 944.9L554.8 947.2L558.1 949.6L561.5 951.9L564.8 954.2L568.2 956.5L571.5 958.8L574.9 961.1L578.3 963.3L581.7 965.5L585.2 967.7L588.6 969.8L592.0 972.0L595.5 974.1L599.0 976.2L602.4 978.3L605.9 980.4L609.4 982.4L612.9 984.4L616.5 986.4L620.0 988.4L623.5 990.3L627.1 992.3L630.6 994.2L634.2 996.1L637.8 997.9L641.4 999.8L644.9 1001.6L648.6 1003.4L652.2 1005.2L655.8 1007.0L659.5 1008.7L663.1 1010.3L666.8 1012.0L670.5 1013.6L674.1 1015.3L677.8 1016.9L681.5 1018.5L685.2 1020.0L689.0 1021.6L692.7 1023.1L696.4 1024.6L700.2 1026.1L703.9 1027.6L707.7 1029.0L711.4 1030.5L715.2 1031.9L719.0 1033.3L722.8 1034.7L726.6 1036.1L730.4 1037.4L734.2 1038.8L738.0 1040.1L741.8 1041.4L745.7 1042.7L749.5 1043.9L753.4 1045.2L757.2 1046.4L761.1 1047.7L764.9 1048.9L768.8 1050.1L772.7 1051.2L776.6 1052.4L780.4 1053.5L784.3 1054.7L788.2 1055.8L792.1 1056.9L796.1 1058.0L800.0 1059.0L803.9 1060.1L807.8 1061.1L811.8 1062.2L815.7 1063.2L819.6 1064.2L823.6 1065.2L827.5 1066.1L831.5 1067.1L835.5 1068.0L839.4 1069.0L843.4 1069.9L847.4 1070.8L851.4 1071.7L855.3 1072.6L859.3 1073.4L863.3 1074.3L867.3 1075.1L871.3 1076.0L875.3 1076.8L879.3 1077.6L883.3 1078.4L887.4 1079.2L891.4 1079.9L895.4 1080.7L899.4 1081.4L903.4 1082.2L907.5 1082.9L911.5 1083.6L915.5 1084.3L919.6 1085.0L923.6 1085.7L927.7 1086.4L931.7 1087.1L935.8 1087.7L939.8 1088.3L943.9 1089.0L947.9 1089.6L952.0 1090.2L956.0 1090.8L960.1 1091.4L964.1 1092.0L968.2 1092.6L972.3 1093.2L976.3 1093.7L980.4 1094.3L984.5 1094.8L988.5 1095.3L992.6 1095.9L996.7 1096.4L1000.7 1096.9L1004.8 1097.4L1008.9 1097.9L1012.9 1098.4L1017.0 1098.9L1021.1 1099.3L1025.1 1099.8L1029.2 1100.3L1033.3 1100.7L1037.4 1101.2L1041.4 1101.6L1045.5 1102.0L1049.6 1102.5L1053.6 1102.9L1057.7 1103.3L1061.8 1103.7L1065.8 1104.1L1069.9 1104.5L1074.0 1104.9L1078.0 1105.3L1082.1 1105.7L1086.2 1106.0L1090.2 1106.4L1094.3 1106.8L1098.3 1107.1L1102.4 1107.5L1106.4 1107.8L1110.5 1108.2L1114.5 1108.5L1118.6 1108.8L1122.6 1109.2L1126.7 1109.5L1130.7 1109.8L1134.8 1110.1L1138.8 1110.4L1142.9 1110.7L1146.9 1111.0L1151.0 1111.3L1155.0 1111.6L1159.1 1111.9L1163.1 1112.2L1167.2 1112.5L1171.2 1112.8L1175.3 1113.0L1179.3 1113.3L1183.3 1113.6L1187.4 1113.8L1191.4 1114.1L1195.5 1114.3L1199.5 1114.6L1203.5 1114.8L1207.6 1115.0L1211.6 1115.3L1215.7 1115.5L1219.7 1115.7L1223.7 1116.0L1227.8 1116.2L1231.8 1116.4L1235.9 1116.6L1239.9 1116.8L1243.9 1117.0L1248.0 1117.2L1252.0 1117.4L1256.0 1117.6L1260.1 1117.8L1264.1 1118.0L1268.2 1118.2L1272.2 1118.4L1276.2 1118.5L1280.3 1118.7L1284.3 1118.9L1288.3 1119.1L1292.4 1119.2L1296.4 1119.4L1300.5 1119.6L1304.5 1119.7L1308.5 1119.9L1312.6 1120.0L1316.6 1120.2L1320.7 1120.3L1324.7 1120.5L1328.7 1120.6L1332.8 1120.8L1336.8 1120.9L1340.9 1121.1L1344.9 1121.2L1349.0 1121.3L1353.0 1121.5L1357.1 1121.6L1361.1 1121.7L1365.2 1121.8L1369.2 1122.0L1373.3 1122.1L1377.3 1122.2L1381.4 1122.3L1385.4 1122.5L1389.5 1122.6L1393.5 1122.7L1397.6 1122.8L1401.6 1122.9L1405.7 1123.0L1409.7 1123.1L1413.8 1123.2L1417.9 1123.3L1421.9 1123.5L1426.0 1123.6L1430.0 1123.7L1434.1 1123.8L1438.2 1123.9L1442.2 1124.0L1446.3 1124.1L1450.4 1124.2L1454.4 1124.3L1458.5 1124.4L1462.6 1124.5L1466.7 1124.6L1470.7 1124.6L1474.8 1124.7L1478.9 1124.8L1483.0 1124.9L1487.0 1125.0L1491.1 1125.1L1495.2 1125.2L1499.3 1125.3L1503.3 1125.4L1507.3 1125.5L1511.2 1125.6L1515.1 1125.8L1519.0 1125.9L1522.9 1126.0L1526.9 1126.1L1530.8 1126.2L1534.7 1126.3L1538.6 1126.5L1542.6 1126.6L1546.5 1126.7"/>
</g>
<g stroke="#ff0000">
<path d="M176.0 54.0L176.2 58.5L176.5 63.1L176.7 67.6L176.9 72.1L177.2 76.6L177.4 81.1L177.7 85.7L177.9 90.2L178.1 94.7L178.4 99.2L178.6 103.7L178.9 108.3L179.1 112.8L179.4 117.3L179.6 121.8L179.9 126.3L180.1 130.8L180.4 135.3L180.6 139.8L180.9 144.3L181.1 148.8L181.4 153.3L181.7 157.9L181.9 162.4L182.2 166.9L182.4 171.4L182.7 175.9L183.0 180.4L183.3 184.9L183.5 189.4L183.8 193.9L184.1 198.3L184.3 202.8L184.6 207.3L184.9 211.8L185.2 216.3L185.5 220.8L185.7 225.3L186.0 229.8L186.3 234.3L186.6 238.8L186.9 243.3L187.2 247.8L187.5 252.2L187.8 256.7L188.1 261.2L188.4 265.7L188.7 270.2L189.0 274.7L189.3 279.2L189.6 283.6L189.9 288.1L190.2 292.6L190.5 297.1L190.8 301.6L191.1 306.1L191.5 310.5L191.8 315.0L192.1 319.5L192.4 324.0L192.7 328.4L193.1 332.9L193.4 337.4L193.7 341.9L194.1 346.4L194.4 350.8L194.7 355.3L195.1 359.8L195.4 364.3L195.8 368.7L196.1 373.2L196.5 377.7L196.8 382.2L197.2 386.6L197.5 391.1L197.9 395.6L198.3 400.1L198.6 404.5L199.0 409.0L199.4 413.5L199.7 417.9L200.1 422.4L200.5 426.9L200.9 431.4L201.2 435.8L201.6 440.3L202.0 444.8L202.4 449.3L202.8 453.7L203.2 458.2L203.6 462.7L204.0 467.1L204.4 471.6L204.8 476.1L205.2 480.6L205.6 485.0L206.0 489.5L206.4 494.0L206.9 498.4L207.3 502.9L207.7 507.4L208.1 511.9L208.6 516.3L209.0 520.8L209.4 525.3L209.9 529.7L210.3 534.2L210.8 538.7L211.2 543.2L211.6 547.6L212.1 552.1L212.6 556.6L213.0 561.1L213.5 565.5L213.9 570.0L214.4 574.5L214.9 579.0L215.4 583.4L215.8 587.9L216.3 592.4L216.8 596.9L217.3 601.3L217.8 605.8L218.3 610.3L218.8 614.8L219.3 619.3L219.8 623.7L220.3 628.2L220.8 632.7L221.3 637.2L221.8 641.7L222.3 646.1L222.9 650.6L223.4 655.1L223.9 659.6L224.5 664.1L225.0 668.6L225.5 673.0L226.1 677.5L226.6 682.0L227.2 686.5L227.7 691.0L228.3 695.5L228.8 700.0L229.4 704.5L230.0 708.9L230.6 713.4L231.1 717.9L231.7 722.4L232.3 726.9L232.9 731.4L233.5 735.9L234.1 740.4L234.7 744.9L235.3 749.4L235.9 753.9L236.5 758.4L237.1 762.9L237.7 767.4L238.3 771.9L239.0 776.4L239.6 780.9L240.2 785.4L240.9 789.9L241.5 794.4L242.2 798.9L242.9 803.4L243.6 807.9L244.3 812.4L245.0 816.8L245.7 821.3L246.4 825.8L247.2 830.3L248.0 834.7L248.8 839.2L249.6 843.7L250.4 848.1L251.2 852.6L252.1 857.0L253.0 861.4L253.9 865.8L254.8 870.3L255.8 874.7L256.8 879.1L257.8 883.5L258.8 887.8L259.9 892.2L261.0 896.6L262.1 900.9L263.3 905.2L264.5 909.6L265.7 913.9L266.9 918.2L268.2 922.4L269.5 926.7L270.9 931.0L272.3 935.2L273.7 939.4L275.2 943.7L276.7 947.8L278.2 952.0L279.8 956.2L281.5 960.3L283.1 964.5L284.8 968.6L286.6 972.7L288.4 976.8L290.3 980.8L292.2 984.8L294.1 988.9L296.1 992.9L298.2 996.8L300.3 1000.8L302.4 1004.7L304.6 1008.7L306.9 1012.5L309.2 1016.4L311.6 1020.3L314.0 1024.1L316.5 1027.9L319.0 1031.7L321.6 1035.4L324.3 1039.1L327.0 1042.7L329.8 1046.2L332.7 1049.7L335.7 1053.1L338.8 1056.4L342.0 1059.6L345.2 1062.7L348.6 1065.6L352.1 1068.4L355.6 1071.1L359.3 1073.6L363.1 1076.1L366.9 1078.4L370.8 1080.6L374.7 1082.7L378.8 1084.7L382.8 1086.5L387.0 1088.3L391.1 1090.0L395.3 1091.6L399.5 1093.2L403.7 1094.6L408.0 1096.0L412.2 1097.3L416.5 1098.6L420.8 1099.8L425.1 1100.9L429.5 1101.9L433.8 1102.9L438.2 1103.8L442.6 1104.7L447.0 1105.5L451.4 1106.3L455.8 1107.0L460.2 1107.7L464.7 1108.3L469.1 1108.9L473.6 1109.4L478.1 1109.9L482.5 1110.4L487.0 1110.9L491.5 1111.3L496.0 1111.7L500.5 1112.0L505.0 1112.4L509.6 1112.7L514.1 1113.0L518.6 1113.3L523.1 1113.5L527.7 1113.8L532.2 1114.1L536.7 1114.3L541.2 1114.6L545.8 1114.8L550.3 1115.0L554.8 1115.3L559.4 1115.5L563.9 1115.7L568.4 1116.0L572.9 1116.2L577.5 1116.4L582.0 1116.6L586.5 1116.8L591.0 1117.1L595.5 1117.3L600.1 1117.5L604.6 1117.7L609.1 1117.9L613.6 1118.1L618.1 1118.3L622.7 1118.5L627.2 1118.7L631.7 1118.9L636.2 1119.1L640.7 1119.3L645.3 1119.5L649.8 1119.6L654.3 1119.8L658.8 1120.0L663.3 1120.2L667.8 1120.3L672.3 1120.5L676.9 1120.7L681.4 1120.9L685.9 1121.0L690.4 1121.2L694.9 1121.3L699.4 1121.5L703.9 1121.7L708.4 1121.8L713.0 1122.0L717.5 1122.1L722.0 1122.3L726.5 1122.4L731.0 1122.5L735.5 1122.7L740.0 1122.8L744.5 1123.0L749.0 1123.1L753.5 1123.2L758.0 1123.4L762.5 1123.5L767.1 1123.6L771.6 1123.7L776.1 1123.9L780.6 1124.0L785.1 1124.1L789.6 1124.2L794.1 1124.3L798.6 1124.4L803.1 1124.6L807.6 1124.7L812.1 1124.8L816.6 1124.9L821.1 1125.0L825.6 1125.1L830.1 1125.2L834.6 1125.3L839.1 1125.4L843.6 1125.5L848.1 1125.6L852.6 1125.7L857.1 1125.8L861.6 1125.8L866.1 1125.9L870.6 1126.0L875.1 1126.1L879.6 1126.2L884.1 1126.3L888.6 1126.3L893.1 1126.4L897.6 1126.5L902.1 1126.6L906.6 1126.6L911.1 1126.7L915.6 1126.8L920.1 1126.9L924.6 1126.9L929.1 1127.0L933.6 1127.1L938.1 1127.1L942.6 1127.2L947.1 1127.2L951.6 1127.3L956.1 1127.4L960.6 1127.4L965.1 1127.5L969.6 1127.5L974.1 1127.6L978.6 1127.6L983.1 1127.7L987.6 1127.7L992.1 1127.8L996.5 1127.8L1001.0 1127.9L1005.5 1127.9L1010.0 1128.0L1014.5 1128.0L1019.0 1128.0L1023.5 1128.1L1028.0 1128.1L1032.5 1128.2L1037.0 1128.2L1041.5 1128.2L1046.0 1128.3L1050.5 1128.3L1055.0 1128.3L1059.5 1128.4L1064.0 1128.4L1068.5 1128.4L1073.0 1128.4L1077.5 1128.5L1082.0 1128.5L1086.5 1128.5L1091.0 1128.5L1095.4 1128.6L1099.9 1128.6L1104.4 1128.6L1108.9 1128.6L1113.4 1128.7L1117.9 1128.7L1122.4 1128.7L1126.9 1128.7L1131.4 1128.7L1135.9 1128.8L1140.4 1128.8L1144.9 1128.8L1149.4 1128.8L1153.9 1128.8L1158.4 1128.8L1162.9 1128.8L1167.4 1128.9L1171.9 1128.9L1176.4 1128.9L1180.9 1128.9L1185.4 1128.9L1189.9 1128.9L1194.4 1128.9L1198.9 1128.9L1203.4 1128.9L1207.9 1128.9L1212.4 1128.9L1216.9 1129.0L1221.4 1129.0L1225.9 1129.0L1230.4 1129.0L1234.9 1129.0L1239.3 1129.0L1243.8 1129.0L1248.3 1129.0L1252.8 1129.0L1257.3 1129.0L1261.8 1129.0L1266.3 1129.0L1270.8 1129.0L1275.3 1129.0L1279.9 1129.0L1284.4 1129.0L1288.9 1129.0L1293.4 1129.0L1297.9 1129.0L1302.4 1129.0L1306.9 1129.0L1311.4 1129.0L1315.9 1129.0L1320.4 1129.0L1324.9 1129.0L1329.4 1129.0L1333.9 1129.0L1338.4 1129.0L1342.9 1129.0L1347.4 1129.0L1351.9 1129.0L1356.4 1129.0L1360.9 1129.0L1365.4 1129.0L1369.9 1129.0L1374.4 1129.0L1378.9 1129.0L1383.4 1129.0L1388.0 1129.0L1392.5 1129.0L1397.0 1129.0L1401.5 1129.0L1406.0 1129.0L1410.5 1129.1L1415.0 1129.1L1419.5 1129.1L1424.0 1129.1L1428.5 1129.1L1433.1 1129.1L1437.6 1129.1L1442.1 1129.1L1446.6 1129.1L1451.1 1129.1L1455.6 1129.1L1460.1 1129.1L1464.7 1129.1L1469.2 1129.1L1473.7 1129.1L1478.2 1129.1L1482.7 1129.1L1487.2 1129.1L1491.8 1129.1L1496.3 1129.2L1500.8 1129.2L1505.3 1129.2L1509.8 1129.2L1514.3 1129.2L1518.9 1129.2L1523.4 1129.2L1527.9 1129.2L1532.4 1129.3L1537.0 1129.3L1541.5 1129.3L1546.0 1129.3"/>
<path stroke-dasharray="50.7 49.2" d="M176.0 54.0L176.3 58.3L176.5 62.7L176.8 67.0L177.1 71.4L177.4 75.7L177.6 80.1L177.9 84.4L178.2 88.7L178.4 93.1L178.7 97.4L179.0 101.8L179.3 106.1L179.5 110.4L179.8 114.8L180.1 119.1L180.4 123.4L180.7 127.8L180.9 132.1L181.2 136.4L181.5 140.8L181.8 145.1L182.1 149.4L182.3 153.8L182.6 158.1L182.9 162.4L183.2 166.7L183.5 171.1L183.8 175.4L184.1 179.7L184.4 184.0L184.7 188.4L185.0 192.7L185.3 197.0L185.6 201.3L185.9 205.7L186.2 210.0L186.5 214.3L186.8 218.6L187.1 222.9L187.4 227.3L187.7 231.6L188.0 235.9L188.3 240.2L188.6 244.5L188.9 248.8L189.3 253.2L189.6 257.5L189.9 261.8L190.2 266.1L190.6 270.4L190.9 274.7L191.2 279.0L191.6 283.3L191.9 287.7L192.2 292.0L192.6 296.3L192.9 300.6L193.3 304.9L193.6 309.2L194.0 313.5L194.3 317.8L194.7 322.1L195.0 326.4L195.4 330.7L195.8 335.0L196.1 339.4L196.5 343.7L196.9 348.0L197.2 352.3L197.6 356.6L198.0 360.9L198.4 365.2L198.8 369.5L199.1 373.8L199.5 378.1L199.9 382.4L200.3 386.7L200.7 391.0L201.1 395.3L201.5 399.6L202.0 403.9L202.4 408.2L202.8 412.5L203.2 416.8L203.6 421.1L204.1 425.4L204.5 429.7L204.9 434.0L205.4 438.3L205.8 442.6L206.3 446.9L206.7 451.2L207.2 455.5L207.6 459.8L208.1 464.1L208.6 468.4L209.0 472.7L209.5 477.0L210.0 481.3L210.5 485.6L210.9 489.9L211.4 494.2L211.9 498.5L212.4 502.8L212.9 507.1L213.4 511.4L213.9 515.7L214.5 520.0L215.0 524.3L215.5 528.6L216.0 532.9L216.6 537.2L217.1 541.5L217.7 545.8L218.2 550.1L218.8 554.4L219.3 558.7L219.9 563.0L220.4 567.3L221.0 571.6L221.6 575.9L222.2 580.2L222.7 584.5L223.3 588.8L223.9 593.1L224.5 597.4L225.1 601.7L225.8 606.0L226.4 610.3L227.0 614.6L227.6 618.9L228.2 623.2L228.9 627.5L229.5 631.8L230.2 636.1L230.8 640.4L231.5 644.7L232.2 649.0L232.8 653.3L233.5 657.6L234.2 661.9L234.9 666.2L235.6 670.5L236.3 674.8L237.0 679.1L237.7 683.4L238.4 687.7L239.1 692.0L239.8 696.3L240.6 700.6L241.3 704.9L242.1 709.2L242.8 713.5L243.6 717.8L244.4 722.1L245.1 726.4L245.9 730.7L246.8 735.0L247.6 739.3L248.4 743.6L249.3 747.9L250.2 752.2L251.1 756.4L252.0 760.7L252.9 764.9L253.9 769.2L254.8 773.4L255.8 777.7L256.9 781.9L257.9 786.1L259.0 790.3L260.1 794.5L261.2 798.7L262.4 802.9L263.6 807.0L264.8 811.2L266.0 815.3L267.3 819.4L268.7 823.5L270.0 827.6L271.4 831.7L272.8 835.8L274.3 839.8L275.8 843.9L277.3 847.9L278.9 851.9L280.6 855.8L282.2 859.8L284.0 863.8L285.7 867.7L287.5 871.6L289.4 875.5L291.3 879.3L293.2 883.2L295.2 887.0L297.3 890.8L299.4 894.6L301.5 898.3L303.7 902.1L306.0 905.8L308.3 909.4L310.7 913.0L313.1 916.6L315.6 920.2L318.1 923.7L320.7 927.2L323.3 930.7L326.0 934.1L328.7 937.4L331.5 940.7L334.4 944.0L337.3 947.2L340.3 950.3L343.3 953.4L346.3 956.5L349.5 959.5L352.7 962.4L355.9 965.3L359.2 968.1L362.6 970.8L366.0 973.5L369.5 976.1L373.0 978.7L376.6 981.2L380.2 983.6L383.8 986.0L387.5 988.4L391.2 990.7L394.9 993.0L398.6 995.2L402.4 997.4L406.2 999.6L409.9 1001.8L413.7 1003.9L417.5 1006.0L421.4 1008.0L425.2 1010.0L429.0 1012.0L432.9 1014.0L436.7 1015.9L440.6 1017.8L444.5 1019.7L448.4 1021.5L452.3 1023.3L456.2 1025.1L460.2 1026.9L464.1 1028.6L468.1 1030.3L472.0 1032.0L476.0 1033.7L480.0 1035.3L484.0 1036.9L488.0 1038.5L492.0 1040.0L496.0 1041.5L500.1 1043.0L504.1 1044.5L508.2 1046.0L512.2 1047.4L516.3 1048.8L520.4 1050.2L524.5 1051.5L528.6 1052.8L532.7 1054.1L536.8 1055.4L540.9 1056.7L545.0 1057.9L549.2 1059.1L553.3 1060.3L557.5 1061.5L561.6 1062.7L565.8 1063.8L570.0 1064.9L574.1 1066.0L578.3 1067.1L582.5 1068.1L586.7 1069.2L590.9 1070.2L595.1 1071.2L599.3 1072.2L603.6 1073.1L607.8 1074.1L612.0 1075.0L616.3 1075.9L620.5 1076.8L624.8 1077.7L629.0 1078.6L633.3 1079.4L637.5 1080.2L641.8 1081.0L646.1 1081.8L650.3 1082.6L654.6 1083.4L658.9 1084.1L663.2 1084.9L667.5 1085.6L671.8 1086.3L676.1 1087.0L680.4 1087.7L684.7 1088.4L689.0 1089.0L693.3 1089.7L697.6 1090.3L701.9 1090.9L706.2 1091.6L710.6 1092.2L714.9 1092.8L719.2 1093.3L723.5 1093.9L727.9 1094.5L732.2 1095.0L736.5 1095.6L740.8 1096.1L745.2 1096.6L749.5 1097.1L753.8 1097.6L758.2 1098.1L762.5 1098.6L766.8 1099.1L771.2 1099.6L775.5 1100.1L779.8 1100.5L784.2 1101.0L788.5 1101.5L792.8 1101.9L797.2 1102.3L801.5 1102.8L805.8 1103.2L810.2 1103.6L814.5 1104.0L818.8 1104.5L823.2 1104.9L827.5 1105.3L831.8 1105.7L836.1 1106.1L840.5 1106.4L844.8 1106.8L849.1 1107.2L853.4 1107.6L857.8 1107.9L862.1 1108.3L866.4 1108.6L870.7 1109.0L875.1 1109.3L879.4 1109.7L883.7 1110.0L888.0 1110.3L892.4 1110.6L896.7 1111.0L901.0 1111.3L905.3 1111.6L909.7 1111.9L914.0 1112.2L918.3 1112.5L922.6 1112.8L926.9 1113.1L931.3 1113.3L935.6 1113.6L939.9 1113.9L944.2 1114.1L948.5 1114.4L952.9 1114.7L957.2 1114.9L961.5 1115.2L965.8 1115.4L970.1 1115.7L974.5 1115.9L978.8 1116.1L983.1 1116.4L987.4 1116.6L991.7 1116.8L996.1 1117.0L1000.4 1117.2L1004.7 1117.4L1009.0 1117.6L1013.3 1117.8L1017.7 1118.0L1022.0 1118.2L1026.3 1118.4L1030.6 1118.6L1034.9 1118.8L1039.2 1119.0L1043.6 1119.2L1047.9 1119.3L1052.2 1119.5L1056.5 1119.7L1060.8 1119.8L1065.1 1120.0L1069.5 1120.2L1073.8 1120.3L1078.1 1120.5L1082.4 1120.6L1086.7 1120.8L1091.1 1120.9L1095.4 1121.0L1099.7 1121.2L1104.0 1121.3L1108.3 1121.4L1112.6 1121.6L1117.0 1121.7L1121.3 1121.8L1125.6 1121.9L1129.9 1122.1L1134.2 1122.2L1138.6 1122.3L1142.9 1122.4L1147.2 1122.5L1151.5 1122.6L1155.8 1122.7L1160.1 1122.8L1164.5 1122.9L1168.8 1123.0L1173.1 1123.1L1177.4 1123.2L1181.7 1123.3L1186.1 1123.4L1190.4 1123.5L1194.7 1123.5L1199.0 1123.6L1203.3 1123.7L1207.7 1123.8L1212.0 1123.9L1216.3 1123.9L1220.6 1124.0L1225.0 1124.1L1229.3 1124.1L1233.6 1124.2L1237.9 1124.3L1242.2 1124.4L1246.6 1124.4L1250.9 1124.5L1255.2 1124.5L1259.5 1124.6L1263.9 1124.7L1268.2 1124.7L1272.5 1124.8L1276.8 1124.8L1281.2 1124.9L1285.5 1124.9L1289.8 1125.0L1294.2 1125.1L1298.5 1125.1L1302.8 1125.2L1307.1 1125.2L1311.5 1125.3L1315.8 1125.3L1320.1 1125.3L1324.5 1125.4L1328.8 1125.4L1333.1 1125.5L1337.4 1125.5L1341.8 1125.6L1346.1 1125.6L1350.4 1125.7L1354.8 1125.7L1359.1 1125.8L1363.4 1125.8L1367.8 1125.8L1372.1 1125.9L1376.4 1125.9L1380.8 1126.0L1385.1 1126.0L1389.5 1126.1L1393.8 1126.1L1398.1 1126.1L1402.5 1126.2L1406.8 1126.2L1411.2 1126.3L1415.5 1126.3L1419.8 1126.4L1424.2 1126.4L1428.5 1126.5L1432.9 1126.5L1437.2 1126.5L1441.5 1126.6L1445.9 1126.6L1450.2 1126.7L1454.6 1126.7L1458.9 1126.8L1463.3 1126.8L1467.6 1126.9L1472.0 1126.9L1476.3 1127.0L1480.7 1127.1L1485.0 1127.1L1489.4 1127.2L1493.7 1127.2L1498.1 1127.3L1502.4 1127.3L1506.8 1127.4L1511.1 1127.5L1515.5 1127.5L1519.8 1127.6L1524.2 1127.6L1528.6 1127.7L1532.9 1127.8L1537.3 1127.9L1541.6 1127.9L1546.0 1128.0"/>
<path stroke-dasharray="50.7 49.2" d="M176.0 54.0L176.3 58.2L176.7 62.4L177.0 66.6L177.3 70.8L177.6 75.0L178.0 79.1L178.3 83.3L178.6 87.5L179.0 91.7L179.3 95.9L179.6 100.1L179.9 104.2L180.3 108.4L180.6 112.6L180.9 116.8L181.3 121.0L181.6 125.1L181.9 129.3L182.3 133.5L182.6 137.7L182.9 141.8L183.3 146.0L183.6 150.2L184.0 154.4L184.3 158.5L184.6 162.7L185.0 166.9L185.3 171.1L185.7 175.2L186.0 179.4L186.4 183.6L186.7 187.7L187.1 191.9L187.4 196.1L187.8 200.2L188.1 204.4L188.5 208.6L188.8 212.7L189.2 216.9L189.5 221.1L189.9 225.2L190.3 229.4L190.6 233.6L191.0 237.7L191.4 241.9L191.7 246.0L192.1 250.2L192.5 254.4L192.9 258.5L193.2 262.7L193.6 266.9L194.0 271.0L194.4 275.2L194.8 279.3L195.2 283.5L195.6 287.7L196.0 291.8L196.4 296.0L196.8 300.1L197.2 304.3L197.6 308.5L198.0 312.6L198.4 316.8L198.8 321.0L199.2 325.1L199.6 329.3L200.1 333.4L200.5 337.6L200.9 341.8L201.3 345.9L201.8 350.1L202.2 354.2L202.7 358.4L203.1 362.6L203.6 366.7L204.0 370.9L204.5 375.1L204.9 379.2L205.4 383.4L205.8 387.6L206.3 391.7L206.8 395.9L207.3 400.1L207.7 404.2L208.2 408.4L208.7 412.6L209.2 416.7L209.7 420.9L210.2 425.1L210.7 429.2L211.2 433.4L211.7 437.6L212.2 441.7L212.7 445.9L213.3 450.1L213.8 454.3L214.3 458.4L214.9 462.6L215.4 466.8L216.0 471.0L216.5 475.1L217.1 479.3L217.6 483.5L218.2 487.7L218.8 491.8L219.4 496.0L220.0 500.2L220.6 504.3L221.2 508.5L221.8 512.7L222.5 516.8L223.1 521.0L223.8 525.2L224.4 529.3L225.1 533.5L225.8 537.6L226.5 541.8L227.2 545.9L228.0 550.1L228.7 554.2L229.5 558.4L230.2 562.5L231.0 566.6L231.8 570.8L232.6 574.9L233.4 579.0L234.3 583.1L235.1 587.3L236.0 591.4L236.9 595.5L237.8 599.6L238.8 603.7L239.7 607.8L240.7 611.9L241.6 615.9L242.6 620.0L243.7 624.1L244.7 628.1L245.8 632.2L246.9 636.3L248.0 640.3L249.1 644.4L250.2 648.4L251.4 652.4L252.6 656.4L253.8 660.5L255.0 664.5L256.3 668.5L257.6 672.5L258.9 676.4L260.2 680.4L261.6 684.4L262.9 688.3L264.3 692.3L265.8 696.2L267.2 700.2L268.7 704.1L270.2 708.0L271.7 711.9L273.3 715.8L274.8 719.6L276.4 723.5L278.1 727.3L279.7 731.2L281.4 735.0L283.1 738.8L284.8 742.6L286.6 746.4L288.4 750.2L290.2 753.9L292.0 757.7L293.9 761.4L295.8 765.1L297.7 768.8L299.7 772.5L301.6 776.1L303.7 779.8L305.7 783.4L307.8 787.0L309.9 790.6L312.0 794.2L314.1 797.8L316.3 801.3L318.6 804.9L320.8 808.4L323.1 811.9L325.4 815.3L327.7 818.8L330.1 822.2L332.5 825.6L334.9 829.0L337.4 832.4L339.9 835.7L342.4 839.1L345.0 842.4L347.6 845.6L350.2 848.9L352.8 852.2L355.5 855.4L358.2 858.6L360.9 861.8L363.7 864.9L366.5 868.0L369.3 871.2L372.1 874.3L375.0 877.3L377.9 880.4L380.8 883.4L383.8 886.4L386.7 889.4L389.7 892.3L392.7 895.3L395.8 898.2L398.8 901.1L401.9 903.9L405.0 906.8L408.1 909.6L411.3 912.4L414.5 915.2L417.6 917.9L420.9 920.7L424.1 923.4L427.3 926.0L430.6 928.7L433.9 931.3L437.2 933.9L440.5 936.5L443.9 939.1L447.2 941.6L450.6 944.1L454.0 946.6L457.4 949.1L460.8 951.5L464.3 953.9L467.7 956.3L471.2 958.7L474.7 961.0L478.2 963.3L481.7 965.6L485.2 967.9L488.7 970.1L492.3 972.3L495.8 974.5L499.4 976.7L503.0 978.8L506.6 980.9L510.2 983.0L513.8 985.1L517.4 987.1L521.1 989.2L524.7 991.2L528.4 993.1L532.1 995.1L535.8 997.0L539.5 998.9L543.2 1000.8L546.9 1002.7L550.6 1004.5L554.4 1006.3L558.1 1008.1L561.9 1009.9L565.7 1011.6L569.5 1013.3L573.3 1015.1L577.1 1016.7L580.9 1018.4L584.7 1020.0L588.5 1021.7L592.4 1023.3L596.2 1024.9L600.1 1026.4L604.0 1028.0L607.8 1029.5L611.7 1031.0L615.6 1032.5L619.5 1033.9L623.4 1035.4L627.3 1036.8L631.3 1038.2L635.2 1039.6L639.2 1041.0L643.1 1042.3L647.1 1043.7L651.0 1045.0L655.0 1046.3L659.0 1047.5L663.0 1048.8L667.0 1050.1L671.0 1051.3L675.0 1052.5L679.0 1053.7L683.0 1054.9L687.0 1056.0L691.1 1057.2L695.1 1058.3L699.2 1059.4L703.2 1060.5L707.3 1061.6L711.3 1062.7L715.4 1063.7L719.5 1064.7L723.5 1065.8L727.6 1066.8L731.7 1067.8L735.8 1068.7L739.9 1069.7L744.0 1070.6L748.1 1071.6L752.2 1072.5L756.3 1073.4L760.5 1074.3L764.6 1075.2L768.7 1076.0L772.8 1076.9L777.0 1077.7L781.1 1078.6L785.2 1079.4L789.4 1080.2L793.5 1081.0L797.7 1081.7L801.8 1082.5L806.0 1083.3L810.2 1084.0L814.3 1084.7L818.5 1085.5L822.6 1086.2L826.8 1086.9L831.0 1087.6L835.1 1088.2L839.3 1088.9L843.5 1089.6L847.7 1090.2L851.8 1090.8L856.0 1091.5L860.2 1092.1L864.4 1092.7L868.6 1093.3L872.7 1093.9L876.9 1094.5L881.1 1095.0L885.3 1095.6L889.5 1096.1L893.6 1096.7L897.8 1097.2L902.0 1097.8L906.2 1098.3L910.4 1098.8L914.5 1099.3L918.7 1099.8L922.9 1100.3L927.1 1100.8L931.3 1101.3L935.4 1101.7L939.6 1102.2L943.8 1102.6L948.0 1103.1L952.1 1103.5L956.3 1104.0L960.5 1104.4L964.7 1104.8L968.8 1105.2L973.0 1105.7L977.2 1106.1L981.3 1106.4L985.5 1106.8L989.7 1107.2L993.9 1107.6L998.0 1108.0L1002.2 1108.3L1006.4 1108.7L1010.5 1109.0L1014.7 1109.4L1018.9 1109.7L1023.1 1110.1L1027.2 1110.4L1031.4 1110.7L1035.6 1111.0L1039.7 1111.4L1043.9 1111.7L1048.1 1112.0L1052.2 1112.3L1056.4 1112.5L1060.6 1112.8L1064.7 1113.1L1068.9 1113.4L1073.1 1113.7L1077.2 1113.9L1081.4 1114.2L1085.6 1114.4L1089.7 1114.7L1093.9 1114.9L1098.1 1115.2L1102.2 1115.4L1106.4 1115.6L1110.6 1115.9L1114.7 1116.1L1118.9 1116.3L1123.1 1116.5L1127.2 1116.7L1131.4 1116.9L1135.6 1117.1L1139.7 1117.3L1143.9 1117.5L1148.1 1117.7L1152.2 1117.9L1156.4 1118.1L1160.6 1118.3L1164.7 1118.4L1168.9 1118.6L1173.1 1118.8L1177.3 1118.9L1181.4 1119.1L1185.6 1119.3L1189.8 1119.4L1193.9 1119.6L1198.1 1119.7L1202.3 1119.9L1206.4 1120.0L1210.6 1120.1L1214.8 1120.3L1218.9 1120.4L1223.1 1120.5L1227.3 1120.7L1231.5 1120.8L1235.6 1120.9L1239.8 1121.0L1244.0 1121.2L1248.1 1121.3L1252.3 1121.4L1256.5 1121.5L1260.7 1121.6L1264.8 1121.7L1269.0 1121.8L1273.2 1121.9L1277.4 1122.0L1281.5 1122.1L1285.7 1122.2L1289.9 1122.3L1294.1 1122.4L1298.2 1122.5L1302.4 1122.6L1306.6 1122.7L1310.8 1122.8L1315.0 1122.8L1319.1 1122.9L1323.3 1123.0L1327.5 1123.1L1331.7 1123.2L1335.9 1123.2L1340.1 1123.3L1344.2 1123.4L1348.4 1123.5L1352.6 1123.6L1356.8 1123.6L1361.0 1123.7L1365.2 1123.8L1369.4 1123.9L1373.5 1123.9L1377.7 1124.0L1381.9 1124.1L1386.1 1124.1L1390.3 1124.2L1394.5 1124.3L1398.7 1124.4L1402.9 1124.4L1407.1 1124.5L1411.3 1124.6L1415.5 1124.6L1419.7 1124.7L1423.9 1124.8L1428.1 1124.9L1432.3 1124.9L1436.5 1125.0L1440.7 1125.1L1444.9 1125.2L1449.1 1125.2L1453.3 1125.3L1457.5 1125.4L1461.7 1125.5L1465.9 1125.5L1470.1 1125.6L1474.3 1125.7L1478.5 1125.8L1482.7 1125.9L1486.9 1126.0L1491.1 1126.0L1495.4 1126.1L1499.6 1126.2L1503.8 1126.3L1508.0 1126.4L1512.2 1126.5L1516.4 1126.6L1520.7 1126.7L1524.9 1126.8L1529.1 1126.9L1533.3 1127.0L1537.5 1127.1L1541.8 1127.2L1546.0 1127.3"/>
<path stroke-dasharray="50.7 49.2" d="M176.0 54.0L176.4 58.0L176.8 62.0L177.2 66.0L177.6 70.1L178.0 74.1L178.5 78.1L178.9 82.1L179.3 86.2L179.7 90.2L180.1 94.2L180.5 98.3L180.9 102.3L181.3 106.3L181.7 110.4L182.1 114.4L182.5 118.5L182.9 122.5L183.3 126.6L183.7 130.6L184.1 134.6L184.5 138.7L184.9 142.7L185.4 146.8L185.8 150.8L186.2 154.9L186.6 159.0L187.0 163.0L187.5 167.1L187.9 171.1L188.3 175.2L188.7 179.2L189.2 183.3L189.6 187.4L190.0 191.4L190.5 195.5L190.9 199.5L191.4 203.6L191.8 207.6L192.3 211.7L192.7 215.8L193.2 219.8L193.7 223.9L194.2 227.9L194.6 232.0L195.1 236.1L195.6 240.1L196.1 244.2L196.6 248.2L197.1 252.3L197.6 256.3L198.1 260.4L198.6 264.5L199.2 268.5L199.7 272.6L200.2 276.6L200.8 280.7L201.3 284.7L201.9 288.8L202.4 292.8L203.0 296.9L203.6 300.9L204.2 304.9L204.8 309.0L205.4 313.0L206.0 317.1L206.6 321.1L207.2 325.1L207.8 329.2L208.5 333.2L209.1 337.2L209.8 341.3L210.4 345.3L211.1 349.3L211.8 353.3L212.5 357.3L213.2 361.4L213.9 365.4L214.6 369.4L215.3 373.4L216.1 377.4L216.8 381.4L217.6 385.4L218.4 389.4L219.1 393.4L219.9 397.4L220.7 401.4L221.5 405.4L222.3 409.4L223.2 413.3L224.0 417.3L224.9 421.3L225.7 425.3L226.6 429.2L227.5 433.2L228.4 437.2L229.3 441.1L230.2 445.1L231.2 449.0L232.1 453.0L233.1 456.9L234.1 460.9L235.1 464.8L236.1 468.7L237.1 472.7L238.1 476.6L239.1 480.5L240.2 484.4L241.3 488.3L242.3 492.2L243.4 496.1L244.5 500.0L245.7 503.9L246.8 507.8L248.0 511.7L249.1 515.6L250.3 519.5L251.5 523.3L252.7 527.2L253.9 531.0L255.2 534.9L256.5 538.7L257.7 542.6L259.0 546.4L260.3 550.3L261.6 554.1L263.0 557.9L264.3 561.7L265.7 565.5L267.1 569.4L268.5 573.2L269.9 576.9L271.4 580.7L272.8 584.5L274.3 588.3L275.8 592.1L277.3 595.8L278.8 599.6L280.4 603.3L281.9 607.1L283.5 610.8L285.1 614.6L286.7 618.3L288.4 622.0L290.0 625.7L291.7 629.4L293.4 633.1L295.1 636.8L296.8 640.5L298.6 644.2L300.3 647.8L302.1 651.5L303.9 655.2L305.7 658.8L307.5 662.4L309.4 666.1L311.2 669.7L313.1 673.3L315.0 676.9L316.9 680.5L318.9 684.1L320.8 687.7L322.8 691.2L324.8 694.8L326.8 698.4L328.8 701.9L330.8 705.4L332.9 709.0L334.9 712.5L337.0 716.0L339.1 719.5L341.3 723.0L343.4 726.4L345.5 729.9L347.7 733.4L349.9 736.8L352.1 740.2L354.3 743.7L356.6 747.1L358.8 750.5L361.1 753.9L363.4 757.2L365.7 760.6L368.1 764.0L370.4 767.3L372.8 770.7L375.1 774.0L377.5 777.3L379.9 780.6L382.4 783.9L384.8 787.2L387.3 790.4L389.8 793.7L392.3 796.9L394.8 800.1L397.3 803.4L399.8 806.6L402.4 809.8L405.0 812.9L407.6 816.1L410.2 819.2L412.8 822.4L415.5 825.5L418.1 828.6L420.8 831.7L423.5 834.8L426.2 837.9L429.0 840.9L431.7 844.0L434.5 847.0L437.2 850.0L440.0 853.0L442.8 856.0L445.7 858.9L448.5 861.9L451.4 864.8L454.2 867.7L457.1 870.6L460.0 873.5L462.9 876.4L465.9 879.2L468.8 882.0L471.8 884.9L474.8 887.7L477.8 890.4L480.8 893.2L483.8 895.9L486.9 898.7L489.9 901.4L493.0 904.1L496.1 906.7L499.2 909.4L502.3 912.0L505.5 914.6L508.6 917.2L511.8 919.8L514.9 922.3L518.1 924.9L521.4 927.4L524.6 929.9L527.8 932.3L531.1 934.8L534.3 937.2L537.6 939.6L540.9 942.0L544.2 944.4L547.5 946.7L550.9 949.1L554.2 951.4L557.6 953.7L560.9 955.9L564.3 958.2L567.7 960.4L571.1 962.6L574.5 964.8L578.0 966.9L581.4 969.1L584.8 971.2L588.3 973.3L591.8 975.4L595.3 977.4L598.8 979.4L602.3 981.4L605.8 983.4L609.3 985.4L612.9 987.3L616.4 989.3L620.0 991.2L623.5 993.0L627.1 994.9L630.7 996.7L634.3 998.6L637.9 1000.4L641.5 1002.1L645.1 1003.9L648.8 1005.6L652.4 1007.4L656.1 1009.1L659.7 1010.7L663.4 1012.4L667.1 1014.0L670.8 1015.7L674.5 1017.3L678.2 1018.8L681.9 1020.4L685.6 1022.0L689.3 1023.5L693.1 1025.0L696.8 1026.5L700.6 1028.0L704.3 1029.4L708.1 1030.9L711.9 1032.3L715.7 1033.7L719.5 1035.1L723.3 1036.5L727.1 1037.8L730.9 1039.1L734.7 1040.5L738.5 1041.8L742.4 1043.1L746.2 1044.3L750.1 1045.6L753.9 1046.8L757.8 1048.0L761.6 1049.2L765.5 1050.4L769.4 1051.6L773.3 1052.8L777.2 1053.9L781.1 1055.0L785.0 1056.2L788.9 1057.3L792.8 1058.3L796.7 1059.4L800.7 1060.5L804.6 1061.5L808.5 1062.5L812.5 1063.6L816.4 1064.6L820.4 1065.5L824.3 1066.5L828.3 1067.5L832.3 1068.4L836.2 1069.3L840.2 1070.3L844.2 1071.2L848.2 1072.1L852.2 1072.9L856.2 1073.8L860.1 1074.7L864.1 1075.5L868.2 1076.3L872.2 1077.2L876.2 1078.0L880.2 1078.8L884.2 1079.5L888.2 1080.3L892.3 1081.1L896.3 1081.8L900.3 1082.6L904.3 1083.3L908.4 1084.0L912.4 1084.7L916.5 1085.4L920.5 1086.1L924.6 1086.8L928.6 1087.4L932.7 1088.1L936.7 1088.7L940.8 1089.3L944.8 1090.0L948.9 1090.6L952.9 1091.2L957.0 1091.8L961.1 1092.4L965.1 1092.9L969.2 1093.5L973.3 1094.1L977.3 1094.6L981.4 1095.2L985.5 1095.7L989.5 1096.2L993.6 1096.8L997.7 1097.3L1001.8 1097.8L1005.8 1098.3L1009.9 1098.7L1014.0 1099.2L1018.1 1099.7L1022.1 1100.2L1026.2 1100.6L1030.3 1101.1L1034.4 1101.5L1038.4 1102.0L1042.5 1102.4L1046.6 1102.8L1050.7 1103.2L1054.7 1103.6L1058.8 1104.1L1062.9 1104.5L1066.9 1104.9L1071.0 1105.2L1075.1 1105.6L1079.1 1106.0L1083.2 1106.4L1087.3 1106.7L1091.3 1107.1L1095.4 1107.5L1099.5 1107.8L1103.5 1108.2L1107.6 1108.5L1111.6 1108.9L1115.7 1109.2L1119.7 1109.5L1123.8 1109.8L1127.9 1110.2L1131.9 1110.5L1136.0 1110.8L1140.0 1111.1L1144.1 1111.4L1148.1 1111.7L1152.2 1112.0L1156.2 1112.3L1160.3 1112.5L1164.3 1112.8L1168.4 1113.1L1172.4 1113.4L1176.5 1113.6L1180.5 1113.9L1184.5 1114.1L1188.6 1114.4L1192.6 1114.6L1196.7 1114.9L1200.7 1115.1L1204.8 1115.4L1208.8 1115.6L1212.9 1115.8L1216.9 1116.1L1220.9 1116.3L1225.0 1116.5L1229.0 1116.7L1233.1 1116.9L1237.1 1117.1L1241.2 1117.3L1245.2 1117.5L1249.2 1117.7L1253.3 1117.9L1257.3 1118.1L1261.4 1118.3L1265.4 1118.5L1269.4 1118.7L1273.5 1118.9L1277.5 1119.0L1281.6 1119.2L1285.6 1119.4L1289.7 1119.6L1293.7 1119.7L1297.7 1119.9L1301.8 1120.0L1305.8 1120.2L1309.9 1120.4L1313.9 1120.5L1318.0 1120.7L1322.0 1120.8L1326.1 1121.0L1330.1 1121.1L1334.2 1121.2L1338.2 1121.4L1342.3 1121.5L1346.3 1121.6L1350.4 1121.8L1354.4 1121.9L1358.5 1122.0L1362.5 1122.2L1366.6 1122.3L1370.6 1122.4L1374.7 1122.5L1378.7 1122.7L1382.8 1122.8L1386.8 1122.9L1390.9 1123.0L1395.0 1123.1L1399.0 1123.2L1403.1 1123.3L1407.1 1123.4L1411.2 1123.6L1415.3 1123.7L1419.3 1123.8L1423.4 1123.9L1427.5 1124.0L1431.5 1124.1L1435.6 1124.2L1439.7 1124.3L1443.7 1124.4L1447.8 1124.5L1451.9 1124.6L1456.0 1124.7L1460.0 1124.8L1464.1 1124.9L1468.2 1124.9L1472.3 1125.0L1476.4 1125.1L1480.4 1125.2L1484.5 1125.3L1488.6 1125.4L1492.7 1125.5L1496.8 1125.6L1500.9 1125.7L1505.0 1125.8L1509.1 1125.9L1513.2 1126.0L1517.3 1126.1L1521.4 1126.1L1525.5 1126.2L1529.6 1126.3L1533.7 1126.4L1537.8 1126.5L1541.9 1126.6L1546.0 1126.7"/>
</g></g>
<g id="inset">
<rect x="1059.1" y="400.1" width="449.7" height="561.8" fill="#fff"/>
<path fill="#262626" fill-rule="evenodd" d="M1059.1 400.1H1508.8V961.85H1059.1ZM1067.85 408.9H1500.2V953.15H1067.85Z"/>
<path fill="#262626" d="M1127.8 947.1H1136.6V954.1H1127.8ZM1127.8 407.9H1136.6V414.9H1127.8ZM1225.2 947.1H1234.1V954.1H1225.2ZM1225.2 407.9H1234.1V414.9H1225.2ZM1322.7 947.1H1331.5V954.1H1322.7ZM1322.7 407.9H1331.5V414.9H1322.7ZM1420.2 947.1H1429.0V954.1H1420.2ZM1420.2 407.9H1429.0V414.9H1420.2ZM1066.8 792.9H1073.8V801.7H1066.8ZM1494.2 792.9H1501.2V801.7H1494.2ZM1066.8 632.7H1073.8V641.5H1066.8ZM1494.2 632.7H1501.2V641.5H1494.2ZM1066.8 472.5H1073.8V481.3H1066.8ZM1494.2 472.5H1501.2V481.3H1494.2Z"/>
<g id="inset-ticklabels">
<text class="tk" transform="translate(1129.8 1025.4) scale(1 1.055)" text-anchor="middle">2.5</text>
<text class="tk" transform="translate(1227.2 1025.4) scale(1 1.055)" text-anchor="middle">3</text>
<text class="tk" transform="translate(1324.7 1025.4) scale(1 1.055)" text-anchor="middle">3.5</text>
<text class="tk" transform="translate(1422.2 1025.4) scale(1 1.055)" text-anchor="middle">4</text>
<text class="tk" transform="translate(1043.5 976.7) scale(1 1.055)" text-anchor="end">0</text>
<text class="tk" transform="translate(1040.0 816.5) scale(1 1.055)" text-anchor="end">0.05</text>
<text class="tk" transform="translate(1042.2 656.3) scale(1 1.055)" text-anchor="end">0.1</text>
<text class="tk" transform="translate(1040.0 496.1) scale(1 1.055)" text-anchor="end">0.15</text>
</g>
<text class="xi" transform="translate(1271.5 1096.3) scale(1.206 1.000)">ξ</text>
<g transform="translate(926.7 725.2) rotate(-90)"><text class="lb" transform="translate(-1.6 0.2) scale(1.02 1.1)">S</text><text class="lb" transform="translate(31.9 -0.7) scale(.97 1.02)">(</text><text class="xi" transform="translate(47.9 -0.4) scale(1.183 0.996)">ξ</text><text class="lb" transform="translate(74.7 -0.7) scale(.97 1.02)">)</text></g>
<g fill="none" stroke-width="13.6" stroke-linecap="butt" stroke-linejoin="round">
<g stroke="#0000ff">
<path d="M1063.5 892.1L1067.2 892.9L1070.8 893.6L1074.5 894.4L1078.1 895.1L1081.8 895.9L1085.5 896.6L1089.1 897.3L1092.8 898.0L1096.5 898.7L1100.1 899.4L1103.8 900.1L1107.5 900.8L1111.2 901.5L1114.8 902.1L1118.5 902.8L1122.2 903.4L1125.9 904.1L1129.6 904.7L1133.2 905.3L1136.9 905.9L1140.6 906.5L1144.3 907.1L1148.0 907.7L1151.7 908.3L1155.3 908.9L1159.0 909.5L1162.7 910.0L1166.4 910.6L1170.1 911.2L1173.8 911.7L1177.5 912.2L1181.2 912.8L1184.9 913.3L1188.6 913.8L1192.3 914.3L1196.0 914.8L1199.7 915.3L1203.4 915.8L1207.1 916.3L1210.8 916.8L1214.5 917.2L1218.2 917.7L1221.9 918.2L1225.6 918.6L1229.3 919.1L1233.0 919.5L1236.7 919.9L1240.4 920.4L1244.1 920.8L1247.8 921.2L1251.5 921.6L1255.2 922.0L1259.0 922.4L1262.7 922.8L1266.4 923.2L1270.1 923.6L1273.8 924.0L1277.5 924.4L1281.2 924.7L1285.0 925.1L1288.7 925.5L1292.4 925.8L1296.1 926.2L1299.8 926.5L1303.5 926.9L1307.3 927.2L1311.0 927.5L1314.7 927.9L1318.4 928.2L1322.1 928.5L1325.9 928.8L1329.6 929.1L1333.3 929.4L1337.0 929.7L1340.7 930.0L1344.5 930.3L1348.2 930.6L1351.9 930.9L1355.6 931.2L1359.4 931.5L1363.1 931.8L1366.8 932.0L1370.5 932.3L1374.3 932.6L1378.0 932.8L1381.7 933.1L1385.4 933.4L1389.2 933.6L1392.9 933.9L1396.6 934.1L1400.3 934.4L1404.1 934.6L1407.8 934.8L1411.5 935.1L1415.2 935.3L1419.0 935.5L1422.7 935.8L1426.4 936.0L1430.2 936.2L1433.9 936.4L1437.6 936.7L1441.3 936.9L1445.1 937.1L1448.8 937.3L1452.5 937.5L1456.3 937.7L1460.0 937.9L1463.7 938.1L1467.4 938.3L1471.2 938.5L1474.9 938.7L1478.6 938.9L1482.3 939.1L1486.1 939.3L1489.8 939.5L1493.5 939.7L1497.2 939.9L1501.0 940.1L1504.7 940.3"/>
<path stroke-dasharray="50.7 49.2" d="M1063.6 661.9L1065.5 663.5L1067.4 665.1L1069.3 666.7L1071.3 668.2L1073.2 669.8L1075.1 671.4L1077.1 672.9L1079.0 674.5L1080.9 676.0L1082.9 677.6L1084.8 679.1L1086.8 680.6L1088.7 682.2L1090.7 683.7L1092.7 685.2L1094.7 686.7L1096.6 688.2L1098.6 689.7L1100.6 691.2L1102.6 692.7L1104.6 694.1L1106.6 695.6L1108.6 697.1L1110.6 698.5L1112.6 700.0L1114.6 701.4L1116.6 702.9L1118.6 704.3L1120.6 705.8L1122.7 707.2L1124.7 708.6L1126.7 710.0L1128.8 711.4L1130.8 712.8L1132.9 714.2L1134.9 715.6L1137.0 717.0L1139.0 718.4L1141.1 719.8L1143.1 721.1L1145.2 722.5L1147.3 723.9L1149.3 725.2L1151.4 726.6L1153.5 727.9L1155.6 729.3L1157.7 730.6L1159.8 731.9L1161.9 733.2L1164.0 734.5L1166.1 735.9L1168.2 737.2L1170.3 738.5L1172.4 739.7L1174.5 741.0L1176.6 742.3L1178.7 743.6L1180.9 744.9L1183.0 746.1L1185.1 747.4L1187.3 748.6L1189.4 749.9L1191.5 751.1L1193.7 752.4L1195.8 753.6L1198.0 754.8L1200.1 756.1L1202.3 757.3L1204.4 758.5L1206.6 759.7L1208.8 760.9L1210.9 762.1L1213.1 763.3L1215.3 764.5L1217.5 765.6L1219.6 766.8L1221.8 768.0L1224.0 769.1L1226.2 770.3L1228.4 771.5L1230.6 772.6L1232.8 773.7L1235.0 774.9L1237.2 776.0L1239.4 777.1L1241.6 778.3L1243.8 779.4L1246.0 780.5L1248.2 781.6L1250.5 782.7L1252.7 783.8L1254.9 784.9L1257.1 785.9L1259.4 787.0L1261.6 788.1L1263.8 789.2L1266.1 790.2L1268.3 791.3L1270.6 792.3L1272.8 793.4L1275.1 794.4L1277.3 795.5L1279.6 796.5L1281.8 797.5L1284.1 798.5L1286.3 799.6L1288.6 800.6L1290.9 801.6L1293.1 802.6L1295.4 803.6L1297.7 804.6L1300.0 805.6L1302.2 806.5L1304.5 807.5L1306.8 808.5L1309.1 809.4L1311.4 810.4L1313.7 811.4L1315.9 812.3L1318.2 813.3L1320.5 814.2L1322.8 815.1L1325.1 816.1L1327.4 817.0L1329.7 817.9L1332.0 818.8L1334.4 819.7L1336.7 820.6L1339.0 821.5L1341.3 822.4L1343.6 823.3L1345.9 824.2L1348.2 825.1L1350.6 826.0L1352.9 826.8L1355.2 827.7L1357.5 828.5L1359.9 829.4L1362.2 830.3L1364.5 831.1L1366.9 831.9L1369.2 832.8L1371.5 833.6L1373.9 834.4L1376.2 835.2L1378.6 836.1L1380.9 836.9L1383.2 837.7L1385.6 838.5L1387.9 839.3L1390.3 840.1L1392.7 840.9L1395.0 841.6L1397.4 842.4L1399.7 843.2L1402.1 844.0L1404.4 844.7L1406.8 845.5L1409.2 846.2L1411.5 847.0L1413.9 847.7L1416.3 848.5L1418.6 849.2L1421.0 849.9L1423.4 850.6L1425.7 851.4L1428.1 852.1L1430.5 852.8L1432.9 853.5L1435.3 854.2L1437.6 854.9L1440.0 855.6L1442.4 856.3L1444.8 857.0L1447.2 857.6L1449.5 858.3L1451.9 859.0L1454.3 859.6L1456.7 860.3L1459.1 860.9L1461.5 861.6L1463.9 862.2L1466.3 862.9L1468.7 863.5L1471.1 864.1L1473.5 864.8L1475.9 865.4L1478.3 866.0L1480.7 866.6L1483.1 867.2L1485.5 867.8L1487.9 868.4L1490.3 869.0L1492.7 869.6L1495.1 870.2L1497.5 870.8L1499.9 871.4L1502.3 871.9L1504.7 872.5"/>
<path stroke-dasharray="50.7 49.2" d="M1063.6 435.2L1065.3 437.6L1066.9 440.0L1068.6 442.4L1070.3 444.8L1072.0 447.2L1073.7 449.5L1075.4 451.9L1077.1 454.3L1078.8 456.7L1080.5 459.0L1082.2 461.4L1083.9 463.7L1085.7 466.1L1087.4 468.4L1089.2 470.8L1090.9 473.1L1092.7 475.4L1094.4 477.8L1096.2 480.1L1098.0 482.4L1099.8 484.7L1101.5 487.0L1103.3 489.3L1105.1 491.6L1107.0 493.9L1108.8 496.2L1110.6 498.5L1112.4 500.8L1114.2 503.1L1116.1 505.3L1117.9 507.6L1119.8 509.9L1121.6 512.1L1123.5 514.4L1125.4 516.6L1127.2 518.9L1129.1 521.1L1131.0 523.4L1132.9 525.6L1134.8 527.8L1136.7 530.0L1138.6 532.2L1140.5 534.4L1142.4 536.6L1144.4 538.8L1146.3 541.0L1148.2 543.2L1150.2 545.4L1152.1 547.6L1154.1 549.8L1156.0 551.9L1158.0 554.1L1160.0 556.2L1162.0 558.4L1163.9 560.5L1165.9 562.7L1167.9 564.8L1169.9 567.0L1171.9 569.1L1173.9 571.2L1176.0 573.3L1178.0 575.4L1180.0 577.5L1182.1 579.6L1184.1 581.7L1186.1 583.8L1188.2 585.9L1190.3 588.0L1192.3 590.0L1194.4 592.1L1196.5 594.1L1198.5 596.2L1200.6 598.2L1202.7 600.3L1204.8 602.3L1206.9 604.3L1209.0 606.4L1211.1 608.4L1213.3 610.4L1215.4 612.4L1217.5 614.4L1219.7 616.4L1221.8 618.4L1223.9 620.4L1226.1 622.3L1228.3 624.3L1230.4 626.3L1232.6 628.2L1234.8 630.2L1236.9 632.1L1239.1 634.0L1241.3 636.0L1243.5 637.9L1245.7 639.8L1247.9 641.7L1250.1 643.6L1252.3 645.5L1254.6 647.4L1256.8 649.3L1259.0 651.2L1261.3 653.1L1263.5 654.9L1265.8 656.8L1268.0 658.7L1270.3 660.5L1272.5 662.4L1274.8 664.2L1277.1 666.0L1279.4 667.8L1281.6 669.6L1283.9 671.5L1286.2 673.3L1288.5 675.1L1290.8 676.8L1293.1 678.6L1295.5 680.4L1297.8 682.2L1300.1 683.9L1302.4 685.7L1304.8 687.4L1307.1 689.2L1309.5 690.9L1311.8 692.6L1314.2 694.3L1316.5 696.1L1318.9 697.8L1321.3 699.5L1323.7 701.1L1326.0 702.8L1328.4 704.5L1330.8 706.2L1333.2 707.8L1335.6 709.5L1338.0 711.1L1340.4 712.8L1342.9 714.4L1345.3 716.0L1347.7 717.7L1350.1 719.3L1352.6 720.9L1355.0 722.5L1357.5 724.1L1359.9 725.6L1362.4 727.2L1364.8 728.8L1367.3 730.3L1369.8 731.9L1372.2 733.4L1374.7 735.0L1377.2 736.5L1379.7 738.0L1382.2 739.5L1384.7 741.0L1387.2 742.5L1389.7 744.0L1392.2 745.5L1394.7 747.0L1397.3 748.4L1399.8 749.9L1402.3 751.3L1404.9 752.8L1407.4 754.2L1410.0 755.7L1412.5 757.1L1415.1 758.5L1417.6 759.9L1420.2 761.3L1422.8 762.7L1425.3 764.0L1427.9 765.4L1430.5 766.8L1433.1 768.1L1435.7 769.5L1438.3 770.8L1440.9 772.1L1443.5 773.5L1446.1 774.8L1448.7 776.1L1451.3 777.4L1454.0 778.7L1456.6 779.9L1459.2 781.2L1461.9 782.5L1464.5 783.7L1467.2 785.0L1469.8 786.2L1472.5 787.4L1475.1 788.7L1477.8 789.9L1480.5 791.1L1483.1 792.3L1485.8 793.4L1488.5 794.6L1491.2 795.8L1493.9 797.0L1496.6 798.1L1499.3 799.2L1502.0 800.4L1504.7 801.5"/>
<path stroke-dasharray="50.7 49.2" d="M1176.0 403.9L1177.3 405.8L1178.6 407.8L1179.9 409.7L1181.3 411.6L1182.6 413.5L1183.9 415.5L1185.2 417.4L1186.6 419.3L1187.9 421.2L1189.2 423.1L1190.6 425.0L1191.9 426.9L1193.3 428.8L1194.6 430.7L1196.0 432.6L1197.4 434.5L1198.7 436.4L1200.1 438.3L1201.5 440.2L1202.8 442.1L1204.2 444.0L1205.6 445.9L1207.0 447.8L1208.4 449.6L1209.8 451.5L1211.2 453.4L1212.6 455.3L1214.0 457.1L1215.4 459.0L1216.8 460.9L1218.2 462.7L1219.6 464.6L1221.0 466.4L1222.5 468.3L1223.9 470.1L1225.3 472.0L1226.7 473.8L1228.2 475.7L1229.6 477.5L1231.1 479.3L1232.5 481.2L1234.0 483.0L1235.4 484.8L1236.9 486.7L1238.3 488.5L1239.8 490.3L1241.3 492.1L1242.7 493.9L1244.2 495.8L1245.7 497.6L1247.2 499.4L1248.7 501.2L1250.2 503.0L1251.6 504.8L1253.1 506.6L1254.6 508.4L1256.1 510.1L1257.7 511.9L1259.2 513.7L1260.7 515.5L1262.2 517.3L1263.7 519.0L1265.2 520.8L1266.8 522.6L1268.3 524.3L1269.8 526.1L1271.4 527.9L1272.9 529.6L1274.5 531.4L1276.0 533.1L1277.6 534.9L1279.1 536.6L1280.7 538.4L1282.2 540.1L1283.8 541.8L1285.4 543.6L1286.9 545.3L1288.5 547.0L1290.1 548.7L1291.7 550.4L1293.3 552.2L1294.8 553.9L1296.4 555.6L1298.0 557.3L1299.6 559.0L1301.2 560.7L1302.8 562.4L1304.5 564.1L1306.1 565.7L1307.7 567.4L1309.3 569.1L1310.9 570.8L1312.6 572.5L1314.2 574.1L1315.8 575.8L1317.5 577.5L1319.1 579.1L1320.8 580.8L1322.4 582.4L1324.1 584.1L1325.7 585.7L1327.4 587.4L1329.0 589.0L1330.7 590.6L1332.4 592.3L1334.0 593.9L1335.7 595.5L1337.4 597.1L1339.1 598.8L1340.8 600.4L1342.5 602.0L1344.1 603.6L1345.8 605.2L1347.5 606.8L1349.2 608.4L1351.0 610.0L1352.7 611.6L1354.4 613.1L1356.1 614.7L1357.8 616.3L1359.5 617.9L1361.3 619.4L1363.0 621.0L1364.7 622.6L1366.5 624.1L1368.2 625.7L1370.0 627.2L1371.7 628.8L1373.5 630.3L1375.2 631.8L1377.0 633.4L1378.7 634.9L1380.5 636.4L1382.3 637.9L1384.0 639.5L1385.8 641.0L1387.6 642.5L1389.4 644.0L1391.2 645.5L1393.0 647.0L1394.8 648.5L1396.6 650.0L1398.4 651.4L1400.2 652.9L1402.0 654.4L1403.8 655.9L1405.6 657.3L1407.4 658.8L1409.2 660.3L1411.1 661.7L1412.9 663.2L1414.7 664.6L1416.5 666.1L1418.4 667.5L1420.2 668.9L1422.1 670.3L1423.9 671.8L1425.8 673.2L1427.6 674.6L1429.5 676.0L1431.4 677.4L1433.2 678.8L1435.1 680.2L1437.0 681.6L1438.8 683.0L1440.7 684.4L1442.6 685.8L1444.5 687.2L1446.4 688.5L1448.3 689.9L1450.2 691.3L1452.1 692.6L1454.0 694.0L1455.9 695.3L1457.8 696.7L1459.7 698.0L1461.6 699.3L1463.6 700.7L1465.5 702.0L1467.4 703.3L1469.3 704.6L1471.3 705.9L1473.2 707.2L1475.2 708.5L1477.1 709.8L1479.0 711.1L1481.0 712.4L1483.0 713.7L1484.9 715.0L1486.9 716.3L1488.8 717.5L1490.8 718.8L1492.8 720.0L1494.8 721.3L1496.7 722.6L1498.7 723.8L1500.7 725.0L1502.7 726.3L1504.7 727.5"/>
</g><g stroke="#ff0000">
<path d="M1063.5 892.9L1067.2 893.7L1070.8 894.4L1074.5 895.2L1078.1 895.9L1081.8 896.7L1085.5 897.4L1089.1 898.1L1092.8 898.8L1096.5 899.5L1100.1 900.2L1103.8 900.9L1107.5 901.6L1111.2 902.3L1114.8 902.9L1118.5 903.6L1122.2 904.2L1125.9 904.9L1129.6 905.5L1133.2 906.1L1136.9 906.7L1140.6 907.3L1144.3 907.9L1148.0 908.5L1151.7 909.1L1155.3 909.7L1159.0 910.3L1162.7 910.8L1166.4 911.4L1170.1 912.0L1173.8 912.5L1177.5 913.0L1181.2 913.6L1184.9 914.1L1188.6 914.6L1192.3 915.1L1196.0 915.6L1199.7 916.1L1203.4 916.6L1207.1 917.1L1210.8 917.6L1214.5 918.0L1218.2 918.5L1221.9 919.0L1225.6 919.4L1229.3 919.9L1233.0 920.3L1236.7 920.7L1240.4 921.2L1244.1 921.6L1247.8 922.0L1251.5 922.4L1255.2 922.8L1259.0 923.2L1262.7 923.6L1266.4 924.0L1270.1 924.4L1273.8 924.8L1277.5 925.2L1281.2 925.5L1285.0 925.9L1288.7 926.3L1292.4 926.6L1296.1 927.0L1299.8 927.3L1303.5 927.7L1307.3 928.0L1311.0 928.3L1314.7 928.7L1318.4 929.0L1322.1 929.3L1325.9 929.6L1329.6 929.9L1333.3 930.2L1337.0 930.5L1340.7 930.8L1344.5 931.1L1348.2 931.4L1351.9 931.7L1355.6 932.0L1359.4 932.3L1363.1 932.6L1366.8 932.8L1370.5 933.1L1374.3 933.4L1378.0 933.6L1381.7 933.9L1385.4 934.2L1389.2 934.4L1392.9 934.7L1396.6 934.9L1400.3 935.2L1404.1 935.4L1407.8 935.6L1411.5 935.9L1415.2 936.1L1419.0 936.3L1422.7 936.6L1426.4 936.8L1430.2 937.0L1433.9 937.2L1437.6 937.5L1441.3 937.7L1445.1 937.9L1448.8 938.1L1452.5 938.3L1456.3 938.5L1460.0 938.7L1463.7 938.9L1467.4 939.1L1471.2 939.3L1474.9 939.5L1478.6 939.7L1482.3 939.9L1486.1 940.1L1489.8 940.3L1493.5 940.5L1497.2 940.7L1501.0 940.9L1504.7 941.1"/>
<path stroke-dasharray="50.7 49.2" d="M1063.7 668.8L1065.6 670.4L1067.5 672.0L1069.4 673.5L1071.3 675.1L1073.3 676.7L1075.2 678.2L1077.1 679.8L1079.0 681.3L1081.0 682.9L1082.9 684.4L1084.9 685.9L1086.8 687.5L1088.8 689.0L1090.7 690.5L1092.7 692.0L1094.7 693.5L1096.6 695.0L1098.6 696.4L1100.6 697.9L1102.6 699.4L1104.6 700.9L1106.5 702.3L1108.5 703.8L1110.5 705.2L1112.5 706.6L1114.6 708.1L1116.6 709.5L1118.6 710.9L1120.6 712.3L1122.6 713.7L1124.7 715.2L1126.7 716.5L1128.7 717.9L1130.8 719.3L1132.8 720.7L1134.9 722.1L1136.9 723.4L1139.0 724.8L1141.0 726.2L1143.1 727.5L1145.2 728.8L1147.2 730.2L1149.3 731.5L1151.4 732.8L1153.5 734.2L1155.6 735.5L1157.6 736.8L1159.7 738.1L1161.8 739.4L1163.9 740.7L1166.0 741.9L1168.1 743.2L1170.3 744.5L1172.4 745.8L1174.5 747.0L1176.6 748.3L1178.7 749.5L1180.9 750.8L1183.0 752.0L1185.1 753.2L1187.3 754.5L1189.4 755.7L1191.5 756.9L1193.7 758.1L1195.8 759.3L1198.0 760.5L1200.1 761.7L1202.3 762.9L1204.5 764.1L1206.6 765.3L1208.8 766.4L1211.0 767.6L1213.2 768.7L1215.3 769.9L1217.5 771.0L1219.7 772.2L1221.9 773.3L1224.1 774.5L1226.3 775.6L1228.5 776.7L1230.7 777.8L1232.9 778.9L1235.1 780.0L1237.3 781.1L1239.5 782.2L1241.7 783.3L1243.9 784.4L1246.1 785.5L1248.4 786.5L1250.6 787.6L1252.8 788.7L1255.0 789.7L1257.3 790.8L1259.5 791.8L1261.8 792.9L1264.0 793.9L1266.2 794.9L1268.5 795.9L1270.7 797.0L1273.0 798.0L1275.2 799.0L1277.5 800.0L1279.7 801.0L1282.0 802.0L1284.3 803.0L1286.5 804.0L1288.8 804.9L1291.1 805.9L1293.3 806.9L1295.6 807.8L1297.9 808.8L1300.2 809.7L1302.5 810.7L1304.7 811.6L1307.0 812.6L1309.3 813.5L1311.6 814.4L1313.9 815.3L1316.2 816.3L1318.5 817.2L1320.8 818.1L1323.1 819.0L1325.4 819.9L1327.7 820.8L1330.0 821.7L1332.3 822.5L1334.6 823.4L1336.9 824.3L1339.2 825.2L1341.6 826.0L1343.9 826.9L1346.2 827.7L1348.5 828.6L1350.8 829.4L1353.2 830.3L1355.5 831.1L1357.8 831.9L1360.1 832.7L1362.5 833.6L1364.8 834.4L1367.2 835.2L1369.5 836.0L1371.8 836.8L1374.2 837.6L1376.5 838.4L1378.9 839.2L1381.2 840.0L1383.5 840.7L1385.9 841.5L1388.2 842.3L1390.6 843.0L1392.9 843.8L1395.3 844.5L1397.6 845.3L1400.0 846.0L1402.4 846.8L1404.7 847.5L1407.1 848.2L1409.4 849.0L1411.8 849.7L1414.2 850.4L1416.5 851.1L1418.9 851.8L1421.3 852.5L1423.6 853.2L1426.0 853.9L1428.4 854.6L1430.7 855.3L1433.1 856.0L1435.5 856.7L1437.9 857.4L1440.2 858.0L1442.6 858.7L1445.0 859.3L1447.4 860.0L1449.8 860.7L1452.1 861.3L1454.5 861.9L1456.9 862.6L1459.3 863.2L1461.7 863.9L1464.1 864.5L1466.4 865.1L1468.8 865.7L1471.2 866.3L1473.6 866.9L1476.0 867.6L1478.4 868.2L1480.8 868.8L1483.2 869.3L1485.6 869.9L1487.9 870.5L1490.3 871.1L1492.7 871.7L1495.1 872.2L1497.5 872.8L1499.9 873.4L1502.3 873.9L1504.7 874.5"/>
<path stroke-dasharray="50.7 49.2" d="M1063.5 448.6L1065.2 451.0L1066.8 453.3L1068.5 455.7L1070.2 458.0L1071.9 460.4L1073.6 462.7L1075.3 465.1L1077.0 467.4L1078.7 469.7L1080.5 472.1L1082.2 474.4L1083.9 476.7L1085.7 479.0L1087.4 481.3L1089.2 483.6L1090.9 485.9L1092.7 488.2L1094.5 490.5L1096.3 492.8L1098.1 495.1L1099.8 497.3L1101.6 499.6L1103.4 501.9L1105.3 504.1L1107.1 506.4L1108.9 508.6L1110.7 510.9L1112.6 513.1L1114.4 515.3L1116.3 517.6L1118.1 519.8L1120.0 522.0L1121.8 524.2L1123.7 526.4L1125.6 528.6L1127.5 530.8L1129.4 533.0L1131.3 535.2L1133.2 537.4L1135.1 539.6L1137.0 541.7L1138.9 543.9L1140.8 546.1L1142.8 548.2L1144.7 550.4L1146.6 552.5L1148.6 554.6L1150.6 556.8L1152.5 558.9L1154.5 561.0L1156.5 563.1L1158.4 565.3L1160.4 567.4L1162.4 569.5L1164.4 571.6L1166.4 573.6L1168.4 575.7L1170.4 577.8L1172.4 579.9L1174.5 582.0L1176.5 584.0L1178.5 586.1L1180.6 588.1L1182.6 590.2L1184.7 592.2L1186.7 594.2L1188.8 596.3L1190.9 598.3L1192.9 600.3L1195.0 602.3L1197.1 604.3L1199.2 606.3L1201.3 608.3L1203.4 610.3L1205.5 612.3L1207.6 614.2L1209.7 616.2L1211.8 618.2L1214.0 620.1L1216.1 622.1L1218.2 624.0L1220.4 626.0L1222.5 627.9L1224.7 629.8L1226.9 631.8L1229.0 633.7L1231.2 635.6L1233.4 637.5L1235.6 639.4L1237.7 641.3L1239.9 643.1L1242.1 645.0L1244.3 646.9L1246.5 648.8L1248.8 650.6L1251.0 652.5L1253.2 654.3L1255.4 656.2L1257.7 658.0L1259.9 659.8L1262.2 661.6L1264.4 663.5L1266.7 665.3L1268.9 667.1L1271.2 668.9L1273.4 670.7L1275.7 672.4L1278.0 674.2L1280.3 676.0L1282.6 677.8L1284.9 679.5L1287.2 681.3L1289.5 683.0L1291.8 684.7L1294.1 686.5L1296.4 688.2L1298.7 689.9L1301.1 691.6L1303.4 693.3L1305.7 695.0L1308.1 696.7L1310.4 698.4L1312.8 700.1L1315.1 701.8L1317.5 703.4L1319.9 705.1L1322.3 706.7L1324.6 708.4L1327.0 710.0L1329.4 711.6L1331.8 713.3L1334.2 714.9L1336.6 716.5L1339.0 718.1L1341.4 719.7L1343.8 721.3L1346.2 722.8L1348.7 724.4L1351.1 726.0L1353.5 727.5L1356.0 729.1L1358.4 730.6L1360.8 732.2L1363.3 733.7L1365.8 735.2L1368.2 736.8L1370.7 738.3L1373.1 739.8L1375.6 741.3L1378.1 742.8L1380.6 744.2L1383.1 745.7L1385.6 747.2L1388.1 748.6L1390.6 750.1L1393.1 751.5L1395.6 753.0L1398.1 754.4L1400.6 755.8L1403.1 757.2L1405.7 758.7L1408.2 760.1L1410.7 761.4L1413.3 762.8L1415.8 764.2L1418.3 765.6L1420.9 766.9L1423.5 768.3L1426.0 769.7L1428.6 771.0L1431.1 772.3L1433.7 773.7L1436.3 775.0L1438.9 776.3L1441.5 777.6L1444.1 778.9L1446.6 780.2L1449.2 781.4L1451.8 782.7L1454.4 784.0L1457.1 785.2L1459.7 786.5L1462.3 787.7L1464.9 789.0L1467.5 790.2L1470.2 791.4L1472.8 792.6L1475.4 793.8L1478.1 795.0L1480.7 796.2L1483.4 797.4L1486.0 798.5L1488.7 799.7L1491.3 800.9L1494.0 802.0L1496.7 803.1L1499.3 804.3L1502.0 805.4L1504.7 806.5"/>
<path stroke-dasharray="50.7 49.2" d="M1166.4 404.3L1167.7 406.3L1169.1 408.3L1170.4 410.3L1171.7 412.3L1173.1 414.2L1174.4 416.2L1175.8 418.2L1177.1 420.2L1178.5 422.1L1179.9 424.1L1181.2 426.1L1182.6 428.0L1184.0 430.0L1185.4 432.0L1186.7 433.9L1188.1 435.9L1189.5 437.8L1190.9 439.8L1192.3 441.7L1193.7 443.6L1195.1 445.6L1196.5 447.5L1197.9 449.4L1199.4 451.4L1200.8 453.3L1202.2 455.2L1203.7 457.1L1205.1 459.1L1206.5 461.0L1208.0 462.9L1209.4 464.8L1210.9 466.7L1212.3 468.6L1213.8 470.5L1215.2 472.4L1216.7 474.3L1218.2 476.2L1219.7 478.1L1221.1 480.0L1222.6 481.8L1224.1 483.7L1225.6 485.6L1227.1 487.5L1228.6 489.3L1230.1 491.2L1231.6 493.1L1233.1 494.9L1234.6 496.8L1236.1 498.6L1237.6 500.5L1239.2 502.3L1240.7 504.2L1242.2 506.0L1243.8 507.8L1245.3 509.7L1246.9 511.5L1248.4 513.3L1249.9 515.2L1251.5 517.0L1253.1 518.8L1254.6 520.6L1256.2 522.4L1257.8 524.2L1259.3 526.0L1260.9 527.8L1262.5 529.6L1264.1 531.4L1265.7 533.2L1267.3 535.0L1268.9 536.8L1270.5 538.6L1272.1 540.4L1273.7 542.1L1275.3 543.9L1276.9 545.7L1278.5 547.4L1280.1 549.2L1281.8 550.9L1283.4 552.7L1285.0 554.4L1286.7 556.2L1288.3 557.9L1290.0 559.7L1291.6 561.4L1293.3 563.1L1294.9 564.9L1296.6 566.6L1298.2 568.3L1299.9 570.0L1301.6 571.7L1303.2 573.5L1304.9 575.2L1306.6 576.9L1308.3 578.6L1310.0 580.3L1311.7 582.0L1313.4 583.6L1315.1 585.3L1316.8 587.0L1318.5 588.7L1320.2 590.4L1321.9 592.0L1323.6 593.7L1325.3 595.4L1327.1 597.0L1328.8 598.7L1330.5 600.3L1332.3 602.0L1334.0 603.6L1335.7 605.2L1337.5 606.9L1339.2 608.5L1341.0 610.1L1342.7 611.8L1344.5 613.4L1346.3 615.0L1348.0 616.6L1349.8 618.2L1351.6 619.8L1353.4 621.4L1355.2 623.0L1356.9 624.6L1358.7 626.2L1360.5 627.8L1362.3 629.4L1364.1 630.9L1365.9 632.5L1367.7 634.1L1369.5 635.7L1371.3 637.2L1373.2 638.8L1375.0 640.3L1376.8 641.9L1378.6 643.4L1380.5 645.0L1382.3 646.5L1384.1 648.0L1386.0 649.5L1387.8 651.1L1389.7 652.6L1391.5 654.1L1393.4 655.6L1395.2 657.1L1397.1 658.6L1399.0 660.1L1400.8 661.6L1402.7 663.1L1404.6 664.6L1406.5 666.1L1408.4 667.6L1410.2 669.0L1412.1 670.5L1414.0 672.0L1415.9 673.4L1417.8 674.9L1419.7 676.3L1421.6 677.8L1423.5 679.2L1425.4 680.7L1427.4 682.1L1429.3 683.5L1431.2 684.9L1433.1 686.4L1435.1 687.8L1437.0 689.2L1438.9 690.6L1440.9 692.0L1442.8 693.4L1444.8 694.8L1446.7 696.2L1448.7 697.6L1450.6 699.0L1452.6 700.3L1454.6 701.7L1456.5 703.1L1458.5 704.4L1460.5 705.8L1462.4 707.1L1464.4 708.5L1466.4 709.8L1468.4 711.2L1470.4 712.5L1472.4 713.8L1474.4 715.2L1476.4 716.5L1478.4 717.8L1480.4 719.1L1482.4 720.4L1484.4 721.7L1486.4 723.0L1488.4 724.3L1490.5 725.6L1492.5 726.9L1494.5 728.2L1496.5 729.4L1498.6 730.7L1500.6 732.0L1502.7 733.2L1504.7 734.5"/>
</g></g>
</g>
<g id="boxes">
<rect x="387" y="84" width="1047" height="211.8" fill="#fff"/>
<path fill="#000" fill-rule="evenodd" d="M387 84H1434V295.8H387ZM396 93H1425V287H396Z"/>
<rect x="379" y="340" width="505" height="112.8" fill="#fff"/>
<path fill="#000" fill-rule="evenodd" d="M379 340H884V452.8H379ZM389 350H875V443H389Z"/>
</g>
<g id="box-text">
<text class="bx" transform="translate(413.3 151.0) scale(1 1.05)">Pr = 0.773,</text>
<text class="bx" transform="translate(654.9 151.0) scale(1 1.05)">B</text>
<text class="sb" transform="translate(694.6 172.9) scale(1 1.05)">m</text>
<text class="bx" transform="translate(729.0 151.0) scale(1 1.05)">= T</text>
<text class="sb" transform="translate(801.0 172.9) scale(1 1.05)">p</text>
<text class="bx" transform="translate(825.6 151.0) scale(1 1.05)" style="letter-spacing:-.13px">= 0.1, Sc = 5, Kc = D</text>
<text class="sb" transform="translate(1269.5 172.9) scale(1 1.05)">f</text>
<text class="sb" transform="translate(1283.0 151.0) scale(1 1.05)">,</text>
<text class="bx" transform="translate(1294.5 151.0) scale(1 1.05)" style="letter-spacing:.5px">M=2</text>
<text class="bx" transform="translate(412.1 245.3) scale(1 1.05)" style="letter-spacing:0">=Sr = 0.1,</text>
<text class="gb" font-size="43.6" transform="translate(652.4 244.6) scale(1.07 1)">β</text>
<text class="sb" transform="translate(681.5 224.0) scale(1 1.05)">*</text>
<text class="bx" transform="translate(697.7 245.3) scale(1 1.05)">=1, Le=3,,</text>
<text class="gl" transform="translate(927.5 246.0) scale(1.15 1)">λ</text>
<text class="bx" transform="translate(969.7 245.3) scale(1 1.05)">= 0.2,</text>
<text class="gb" font-size="40" transform="translate(1103.8 244.9) scale(1.0 1)">σ</text>
<text class="sb" transform="translate(1135.3 265.6) scale(1 1.05)">f</text>
<text class="bx" transform="translate(1160.2 245.3) scale(1 1.05)">= 0.2,</text>
<text class="bx" transform="translate(404.0 407.0) scale(1 1.05)" style="letter-spacing:-.04px">Sr = 0.1, 0.5, 0.9, 1.3</text>
</g>
<g id="legend">
<polygon fill="#0000ff" points="379,513.1 510.9,516.1 510.9,529.8 378.2,526.7"/>
<polygon fill="#ff0000" points="382,573.1 505,576.1 505,588.7 382,585.8"/>
<text class="lg" transform="translate(537.4 535.6) scale(1 1.02)">Active control</text>
<text class="lg" transform="translate(537.7 600.5) scale(1 1.02)">Passive control</text>
</g>
<g id="arrows" fill="#000" stroke="#000" stroke-width="1.2" stroke-linejoin="miter">
<polygon stroke="none" points="283.2,911.1 473.9,745.2 465.0,735.0 274.4,900.9"/><polygon points="492.3,720.3 470.4,760.6 468.0,741.4 449.4,736.4"/>
<polygon stroke="none" points="336.7,1051.3 562.3,842.6 553.1,832.7 327.5,1041.3"/><polygon points="579.9,817.1 559.2,858.0 556.2,839.0 537.5,834.5"/>
<polygon stroke="none" points="1096.9,894.4 1349.2,540.9 1338.2,533.0 1085.9,886.6"/><polygon points="1361.3,512.3 1349.3,556.6 1342.5,538.6 1323.3,538.0"/>
<polygon stroke="none" points="1218.9,919.1 1422.3,610.3 1411.0,602.9 1207.7,911.7"/><polygon points="1433.3,581.3 1423.0,626.0 1415.5,608.3 1396.3,608.4"/>
</g>
</svg></body></html>
